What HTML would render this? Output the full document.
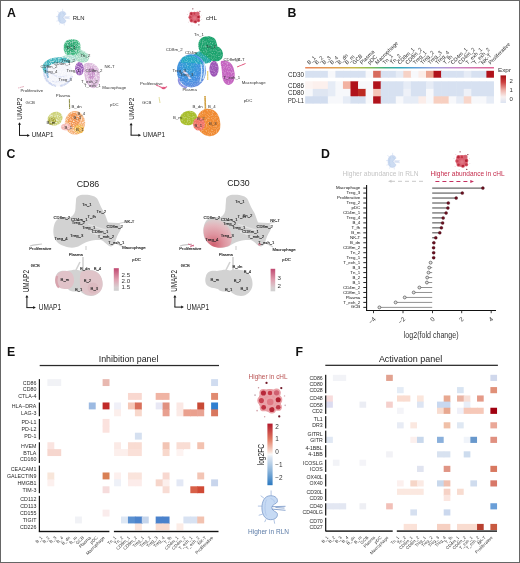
<!DOCTYPE html><html><head><meta charset="utf-8"><style>html,body{margin:0;padding:0;background:#fff;overflow:hidden}svg{display:block;will-change:transform}text{font-family:"Liberation Sans",sans-serif}</style></head><body>
<svg width="520" height="563" viewBox="0 0 520 563">
<defs>
<filter id="b1" x="-50%" y="-50%" width="200%" height="200%"><feGaussianBlur stdDeviation="0.7"/></filter>
<filter id="b2" x="-50%" y="-50%" width="200%" height="200%"><feGaussianBlur stdDeviation="1.2"/></filter>
<filter id="b05" x="-50%" y="-50%" width="200%" height="200%"><feGaussianBlur stdDeviation="0.4"/></filter>
<linearGradient id="annbar" x1="0" x2="1" y1="0" y2="0">
<stop offset="0" stop-color="#e8865a"/><stop offset="0.16" stop-color="#e0a050"/><stop offset="0.26" stop-color="#c8b848"/>
<stop offset="0.34" stop-color="#8cbc50"/><stop offset="0.42" stop-color="#40b080"/><stop offset="0.5" stop-color="#30a8b8"/>
<stop offset="0.58" stop-color="#5aa0d8"/><stop offset="0.7" stop-color="#a0a0dc"/><stop offset="0.8" stop-color="#c888c8"/><stop offset="1" stop-color="#e06090"/>
</linearGradient>
<linearGradient id="exprleg" x1="0" x2="0" y1="0" y2="1">
<stop offset="0" stop-color="#a50f15"/><stop offset="0.25" stop-color="#cc4040"/><stop offset="0.55" stop-color="#f0b8b0"/><stop offset="0.78" stop-color="#f8f0f0"/><stop offset="1" stop-color="#dce4f2"/>
</linearGradient>
<linearGradient id="cleg" x1="0" x2="0" y1="0" y2="1">
<stop offset="0" stop-color="#c04870"/><stop offset="0.5" stop-color="#e0a0b0"/><stop offset="0.85" stop-color="#d8d0d2"/><stop offset="1" stop-color="#d0d0d0"/>
</linearGradient>
<linearGradient id="fcleg" x1="0" x2="0" y1="0" y2="1">
<stop offset="0" stop-color="#b2182b"/><stop offset="0.25" stop-color="#e07860"/><stop offset="0.45" stop-color="#f8dcd0"/><stop offset="0.5" stop-color="#f8f8f8"/><stop offset="0.55" stop-color="#dce6f2"/><stop offset="0.75" stop-color="#92b8dc"/><stop offset="1" stop-color="#2a78c0"/>
</linearGradient>
<radialGradient id="gGreen" cx="0.45" cy="0.4" r="0.6"><stop offset="0" stop-color="#1f9a66"/><stop offset="0.7" stop-color="#3cb67f"/><stop offset="1" stop-color="#7fd0a8"/></radialGradient>
<radialGradient id="gBlue" cx="0.4" cy="0.35" r="0.7"><stop offset="0" stop-color="#2a9fd0"/><stop offset="0.6" stop-color="#3f8fe0"/><stop offset="1" stop-color="#6a8ee0"/></radialGradient>
<radialGradient id="gOrange" cx="0.55" cy="0.55" r="0.6"><stop offset="0" stop-color="#f07a30"/><stop offset="1" stop-color="#f59a50"/></radialGradient>
<radialGradient id="gRedLobe" cx="0.35" cy="0.9" r="0.85"><stop offset="0" stop-color="#d0606f"/><stop offset="0.45" stop-color="#de95a0"/><stop offset="0.8" stop-color="#e4b4bb"/><stop offset="1" stop-color="#dcc8ca"/></radialGradient>
<filter id="speck" x="-10%" y="-10%" width="120%" height="120%">
<feTurbulence type="fractalNoise" baseFrequency="0.8" numOctaves="2" seed="7" result="n"/>
<feColorMatrix in="n" type="matrix" values="0 0 0 0 0  0 0 0 0 0  0 0 0 0 0  0 0 0 -1.8 1.75" result="a"/>
<feComposite in="SourceGraphic" in2="a" operator="in" result="c"/>
<feGaussianBlur in="c" stdDeviation="0.4"/>
</filter>
<filter id="speck2" x="-10%" y="-10%" width="120%" height="120%">
<feTurbulence type="fractalNoise" baseFrequency="0.8" numOctaves="2" seed="3" result="n"/>
<feColorMatrix in="n" type="matrix" values="0 0 0 0 0  0 0 0 0 0  0 0 0 0 0  0 0 0 -1.0 1.45" result="a"/>
<feComposite in="SourceGraphic" in2="a" operator="in" result="c"/>
<feGaussianBlur in="c" stdDeviation="0.4"/>
</filter>
</defs>

<rect x="0" y="0" width="520" height="563" fill="#fff"/>
<g filter="url(#speck)">
<path d="M68 50 C74 47 83 49 88 54 C91 58 88 63 83 62.5 C78 62 72 59 68 56 Z" fill="#a6dcc4"/>
<path d="M74 51 C79 51 84 54 86 57" stroke="#6cc49a" stroke-width="2" fill="none"/>
<path d="M65 42 C67 39 73 38.5 77 40 C80 41.5 81 45 80.5 49 C80 53 78 56.5 74 57 C69 57.5 65 55 64 51 C63.3 47.5 63.5 44.5 65 42 Z" fill="url(#gGreen)"/>
<path d="M43 66 C45 61 55 60 63 61.5 C70 63 73 68 72.5 75 C72 82 66 86.5 58 86.5 C50 86.5 44 82 43 75 Z" fill="#f4f5fb"/>
<path d="M44 70 C44 78 48 84 56 86 M60 86 C66 85 70 82 72 76" stroke="#cdd6f0" stroke-width="2" fill="none"/>
<path d="M50 72 C54 76 60 78 67 76 M52 81 C57 83 62 82 68 79" stroke="#dde2f4" stroke-width="1.2" fill="none"/>
<path d="M60 58 C64 55 70 54 74 55.5 C77 57 77 60 75 62 C71 63 65 62.5 61 61.5 Z" fill="#b0e0d4"/>
<path d="M42.5 67 C43 61 51 57 60 57.3 C67 57.6 71 60 70 63 C64 62.5 56 62.5 51 64.5 C48 66 47 70 46.5 74 C44 73 42.5 70 42.5 67 Z" fill="#3fb3bd"/>
<path d="M47 66 C47 70 47 74 48 78" stroke="#7fb0d8" stroke-width="2" fill="none"/>
<ellipse cx="79.5" cy="68.8" rx="4.5" ry="6.8" fill="#9a5cb8"/>
<path d="M84 64 C90 61 97 64 99 70 C101 77 100 85 95 88 C90 89 86 84 85 78 C84 73 83 68 84 64 Z" fill="#dcbadc"/>
<ellipse cx="91.5" cy="73" rx="3.6" ry="6.5" fill="#c690c8"/>
<path d="M18 88 L24 86.5" stroke="#e0a0b0" stroke-width="0.8"/>
<path d="M69.4 99 L69.6 109" stroke="#8a8a40" stroke-width="1.1"/>
<ellipse cx="55" cy="118.7" rx="8" ry="6.6" transform="rotate(-30 55 118.7)" fill="#cdd27a"/>
<ellipse cx="52" cy="121" rx="4" ry="3.5" transform="rotate(-30 52 121)" fill="#a8a838"/>
<ellipse cx="75" cy="122.8" rx="10.2" ry="11.8" fill="#f6b27a"/>
<ellipse cx="74" cy="120" rx="6" ry="7" fill="#f29450"/>
<ellipse cx="79" cy="129" rx="5" ry="4.5" fill="#f2b448"/>
<ellipse cx="66" cy="127" rx="5.2" ry="3.6" fill="#f4b4b0"/>
</g>
<text x="66.00" y="49.00" font-size="4.3" fill="#333" text-anchor="start">Tn_1</text>
<text x="80.50" y="56.50" font-size="4.3" fill="#333" text-anchor="start">Tn_2</text>
<text x="61.50" y="61.50" font-size="4.3" fill="#333" text-anchor="start">Treg_2</text>
<text x="40.50" y="67.50" font-size="4.3" fill="#333" text-anchor="start">CD8m_2</text>
<text x="53.50" y="64.50" font-size="4.3" fill="#333" text-anchor="start">CD4m_1</text>
<text x="44.00" y="73.00" font-size="4.3" fill="#333" text-anchor="start">Treg_4</text>
<text x="66.50" y="71.50" font-size="4.3" fill="#333" text-anchor="start">Treg_1</text>
<text x="85.50" y="71.50" font-size="4.3" fill="#333" text-anchor="start">CD8m_2</text>
<text x="58.50" y="81.00" font-size="4.3" fill="#333" text-anchor="start">Treg_3</text>
<text x="104.50" y="67.50" font-size="4.3" fill="#333" text-anchor="start">NK-T</text>
<text x="81.00" y="83.00" font-size="4.3" fill="#333" text-anchor="start">T_exh_2</text>
<text x="84.00" y="86.50" font-size="4.3" fill="#333" text-anchor="start">T_exh_1</text>
<text x="102.30" y="89.30" font-size="4.3" fill="#333" text-anchor="start">Macrophage</text>
<text x="20.40" y="91.50" font-size="4.3" fill="#333" text-anchor="start">Proliferative</text>
<text x="55.80" y="97.00" font-size="4.3" fill="#333" text-anchor="start">Plasma</text>
<text x="25.60" y="104.30" font-size="4.3" fill="#333" text-anchor="start">GCB</text>
<text x="110.00" y="106.30" font-size="4.3" fill="#333" text-anchor="start">pDC</text>
<text x="71.50" y="108.00" font-size="4.3" fill="#333" text-anchor="start">B_dn</text>
<text x="77.50" y="115.00" font-size="4.3" fill="#333" text-anchor="start">B_4</text>
<text x="73.50" y="119.00" font-size="4.3" fill="#333" text-anchor="start">B_3</text>
<text x="46.50" y="123.50" font-size="4.3" fill="#333" text-anchor="start">B_m</text>
<text x="64.50" y="129.00" font-size="4.3" fill="#333" text-anchor="start">B_1</text>
<text x="76.00" y="131.00" font-size="4.3" fill="#333" text-anchor="start">B_1</text>
<g filter="url(#speck2)">
<path d="M193 56 C196 51 202 50 208 52 C212 54 213 58 211 62 C207 64 200 64 195 62 Z" fill="#22a8a4"/>
<path d="M200.5 39 C203 35.8 210 35.5 214 38 C216.5 40 216.8 43.5 217.5 46.5 C220.5 47.5 223 50.5 223 54.5 C223 58.5 220 61.5 215.5 61.5 C211.5 61.5 209 58.5 206 56 C201.5 54 198.3 50.5 198.3 45.5 C198.3 42.5 199 40.5 200.5 39 Z" fill="#1fa36e"/>
<ellipse cx="191.4" cy="70.8" rx="14.6" ry="16.6" fill="url(#gBlue)"/>
<path d="M182 58 C186 55 192 55 196 57 C200 59 202 62 203 65 C196 63 188 62 181 63 Z" fill="#20aac0" opacity="0.9"/>
<path d="M201 64 C202 70 202 76 200 82 M204 62 C205 68 205 74 203 79" stroke="#c8e4f8" stroke-width="1.3" fill="none"/>
<path d="M183 71 C186 73 189 76 190 79" stroke="#d8d8f4" stroke-width="2.2" fill="none"/>
<path d="M179 78 C178 83 181 87 187 87.5" stroke="#8a90e0" stroke-width="2" fill="none"/>
<ellipse cx="214" cy="68.8" rx="4.6" ry="8" fill="#9c54b6"/>
<path d="M221 61 C227 59 233 63 234 70 C236 77 234 84 229 85 C224 85 222 79 222 73 C222 68 220 64 221 61 Z" fill="#c464c0"/>
<path d="M237 67 L245.5 63.5" stroke="#e0507a" stroke-width="1"/>
<path d="M156 85 C159 86 161 87.5 164 88.5 L167 86.5" stroke="#e86a90" stroke-width="1.3" fill="none"/>
<ellipse cx="163.5" cy="88" rx="2" ry="1.3" fill="#e0507a"/>
<path d="M207.7 71 L207.7 80" stroke="#e8d070" stroke-width="1.2"/>
<path d="M159 97 L160 103" stroke="#d8d080" stroke-width="0.8"/>
<ellipse cx="188.5" cy="118" rx="8.8" ry="7.2" transform="rotate(-15 188.5 118)" fill="#a8be2c"/>
<path d="M205 96 L205.5 111" stroke="#d0a040" stroke-width="1.6"/>
<path d="M203 110 C206 108 212 108 216 112 C220 116 221 124 220 129 C218 134 213 137 208 136 C202 135 198 130 197 124 C196 117 199 112 203 110 Z" fill="#f08a30"/>
<ellipse cx="199" cy="124" rx="6" ry="6.6" fill="#f27468"/>
</g>
<text x="194.00" y="36.00" font-size="4.3" fill="#333" text-anchor="start">Tn_1</text>
<text x="165.80" y="50.50" font-size="4.3" fill="#333" text-anchor="start">CD8m_2</text>
<text x="185.00" y="53.50" font-size="4.3" fill="#333" text-anchor="start">CD4m</text>
<text x="206.00" y="48.00" font-size="4.3" fill="#333" text-anchor="start">Tn_2</text>
<text x="223.50" y="61.00" font-size="4.3" fill="#333" text-anchor="start">CD8m_2</text>
<text x="234.50" y="61.00" font-size="4.3" fill="#333" text-anchor="start">NK-T</text>
<text x="172.50" y="71.50" font-size="4.3" fill="#333" text-anchor="start">Treg_4</text>
<text x="180.00" y="75.50" font-size="4.3" fill="#333" text-anchor="start">Treg_3</text>
<text x="223.50" y="78.50" font-size="4.3" fill="#333" text-anchor="start">T_exh_1</text>
<text x="241.70" y="84.00" font-size="4.3" fill="#333" text-anchor="start">Macrophage</text>
<text x="182.50" y="91.00" font-size="4.3" fill="#333" text-anchor="start">Plasma</text>
<text x="140.00" y="85.00" font-size="4.3" fill="#333" text-anchor="start">Proliferative</text>
<text x="142.00" y="103.50" font-size="4.3" fill="#333" text-anchor="start">GCB</text>
<text x="243.70" y="102.00" font-size="4.3" fill="#333" text-anchor="start">pDC</text>
<text x="192.50" y="107.50" font-size="4.3" fill="#333" text-anchor="start">B_dn</text>
<text x="208.00" y="107.50" font-size="4.3" fill="#333" text-anchor="start">B_4</text>
<text x="173.00" y="119.30" font-size="4.3" fill="#333" text-anchor="start">B_m</text>
<text x="197.00" y="120.00" font-size="4.3" fill="#333" text-anchor="start">B_2</text>
<text x="194.50" y="126.50" font-size="4.3" fill="#333" text-anchor="start">B_1</text>
<text x="209.00" y="124.50" font-size="4.3" fill="#333" text-anchor="start">B_3</text>
<path d="M19.5 135.4 L19.5 123.7 M19.0 135.4 L28.3 135.4" stroke="#1a1a1a" stroke-width="1" fill="none"/>
<path d="M18.0 124.8 L19.5 122.2 L21.0 124.8 Z" fill="#1a1a1a"/>
<path d="M27.2 133.9 L29.8 135.4 L27.2 136.9 Z" fill="#1a1a1a"/>
<text x="31.70" y="137.00" font-size="7.9" fill="#222" text-anchor="start" textLength="21.7" lengthAdjust="spacingAndGlyphs">UMAP1</text>
<text x="21.90" y="108.75" font-size="7.9" fill="#222" text-anchor="middle" transform="rotate(-90 21.90 108.75)" textLength="21.9" lengthAdjust="spacingAndGlyphs">UMAP2</text>
<path d="M131.1 135.2 L131.1 124.2 M130.6 135.2 L139.5 135.2" stroke="#1a1a1a" stroke-width="1" fill="none"/>
<path d="M129.6 125.3 L131.1 122.7 L132.6 125.3 Z" fill="#1a1a1a"/>
<path d="M138.4 133.7 L141 135.2 L138.4 136.7 Z" fill="#1a1a1a"/>
<text x="143.00" y="137.00" font-size="7.9" fill="#222" text-anchor="start" textLength="22.2" lengthAdjust="spacingAndGlyphs">UMAP1</text>
<text x="134.00" y="108.75" font-size="7.9" fill="#222" text-anchor="middle" transform="rotate(-90 134.00 108.75)" textLength="21.9" lengthAdjust="spacingAndGlyphs">UMAP2</text>
<g transform="translate(61.8 17.4) scale(1.0)">
<path d="M0.8 -6 L0.8 -8.6 M-2.8 -4.8 L-4.4 -6 M-3.8 -0.8 L-5.8 -0.8 M-3.4 3.2 L-5.4 3.8 M-1.8 5.8 L-2.4 7.2 M2.2 5.9 L2.6 8" stroke="#c0d0ec" stroke-width="0.45"/>
<path d="M0.5 -6 C-2.5 -6 -3.8 -3 -3.8 0 C-3.8 3 -2.5 6 0.5 6 C3 6 4.3 4.6 3.9 2.9 C3.6 1.9 1.3 1.8 1.1 0 C1.3 -1.8 3.6 -1.9 3.9 -2.9 C4.3 -4.6 3 -6 0.5 -6 Z" fill="#cddcf2" stroke="#a8bde4" stroke-width="0.35"/>
<path d="M-1.5 -4 C-2.5 -2 -2.5 2 -1.5 4 M0.5 -4.6 C2 -4.2 2.6 -3.4 2.4 -2.6" stroke="#a9c2e6" stroke-width="0.35" fill="none"/>
<path d="M1.2 -0.5 L8 -0.7 M1.2 0.7 L8 1.3 M3 -0.1 L7.5 0.2" stroke="#a8bde4" stroke-width="0.4"/>
</g>
<text x="72.70" y="20.40" font-size="6.2" fill="#222" text-anchor="start" textLength="11.9" lengthAdjust="spacingAndGlyphs">RLN</text>
<g transform="translate(194.4 17) scale(0.98)">
<circle cx="0" cy="0.2" r="5.6" fill="#d45868"/>
<circle cx="-3.1" cy="-3.4" r="2.0" fill="#dc6878"/>
<circle cx="-3.1" cy="-3.4" r="1.24" fill="#b8283a"/>
<circle cx="0.1" cy="-3.4" r="1.8" fill="#dc6878"/>
<circle cx="0.1" cy="-3.4" r="1.12" fill="#c83848"/>
<circle cx="3.3" cy="-3.5" r="2.1" fill="#dc6878"/>
<circle cx="3.3" cy="-3.5" r="1.30" fill="#d06070"/>
<circle cx="-4.1" cy="0.3" r="2.0" fill="#dc6878"/>
<circle cx="-4.1" cy="0.3" r="1.24" fill="#c84050"/>
<circle cx="4.1" cy="-0.1" r="2.0" fill="#dc6878"/>
<circle cx="4.1" cy="-0.1" r="1.24" fill="#b02030"/>
<circle cx="-3.0" cy="3.6" r="1.9" fill="#dc6878"/>
<circle cx="-3.0" cy="3.6" r="1.18" fill="#c03040"/>
<circle cx="1.0" cy="4.6" r="2.0" fill="#dc6878"/>
<circle cx="1.0" cy="4.6" r="1.24" fill="#b52535"/>
<circle cx="4.1" cy="3.5" r="1.8" fill="#dc6878"/>
<circle cx="4.1" cy="3.5" r="1.12" fill="#c03848"/>
<circle cx="0.2" cy="1.0" r="2.6" fill="#dc6878"/>
<circle cx="0.2" cy="1.0" r="1.61" fill="#e07884"/>
<circle cx="-1.6" cy="-8.3" r="0.55" fill="#701828"/>
<circle cx="5.6" cy="-5.8" r="0.55" fill="#701828"/>
<circle cx="4.6" cy="8.0" r="0.55" fill="#701828"/>
<circle cx="-7.2" cy="-2.4" r="0.45" fill="#c8b0b8"/>
<circle cx="7.5" cy="2.6" r="0.4" fill="#c8b0b8"/>
<circle cx="-6.2" cy="5.2" r="0.4" fill="#d0a0a8"/>
<circle cx="-5.5" cy="-6" r="0.35" fill="#c89098"/>
<circle cx="7.2" cy="-2" r="0.35" fill="#d0a8b0"/>
<circle cx="-2.5" cy="8.2" r="0.35" fill="#d0a0a8"/>
</g>
<text x="206.00" y="20.30" font-size="6.2" fill="#222" text-anchor="start" textLength="11" lengthAdjust="spacingAndGlyphs">cHL</text>
<rect x="305.20" y="70.80" width="8.15" height="6.90" fill="#d7e1f1"/>
<rect x="312.75" y="70.80" width="8.15" height="6.90" fill="#d7e1f1"/>
<rect x="320.30" y="70.80" width="8.15" height="6.90" fill="#d7e1f1"/>
<rect x="327.85" y="70.80" width="8.15" height="6.90" fill="#f7f8fb"/>
<rect x="335.40" y="70.80" width="8.15" height="6.90" fill="#d7e1f1"/>
<rect x="342.95" y="70.80" width="8.15" height="6.90" fill="#d7e1f1"/>
<rect x="350.50" y="70.80" width="8.15" height="6.90" fill="#d7e1f1"/>
<rect x="358.05" y="70.80" width="8.15" height="6.90" fill="#d7e1f1"/>
<rect x="365.60" y="70.80" width="8.15" height="6.90" fill="#f7f8fb"/>
<rect x="373.15" y="70.80" width="8.15" height="6.90" fill="#d76a5c"/>
<rect x="380.70" y="70.80" width="8.15" height="6.90" fill="#d7e1f1"/>
<rect x="388.25" y="70.80" width="8.15" height="6.90" fill="#d7e1f1"/>
<rect x="395.80" y="70.80" width="8.15" height="6.90" fill="#e6ecf6"/>
<rect x="403.35" y="70.80" width="8.15" height="6.90" fill="#f6d2c6"/>
<rect x="410.90" y="70.80" width="8.15" height="6.90" fill="#f7f8fb"/>
<rect x="418.45" y="70.80" width="8.15" height="6.90" fill="#fbede9"/>
<rect x="426.00" y="70.80" width="8.15" height="6.90" fill="#eca592"/>
<rect x="433.55" y="70.80" width="8.15" height="6.90" fill="#b0121b"/>
<rect x="441.10" y="70.80" width="8.15" height="6.90" fill="#d7e1f1"/>
<rect x="448.65" y="70.80" width="8.15" height="6.90" fill="#d7e1f1"/>
<rect x="456.20" y="70.80" width="8.15" height="6.90" fill="#d7e1f1"/>
<rect x="463.75" y="70.80" width="8.15" height="6.90" fill="#e6ecf6"/>
<rect x="471.30" y="70.80" width="8.15" height="6.90" fill="#d7e1f1"/>
<rect x="478.85" y="70.80" width="8.15" height="6.90" fill="#d7e1f1"/>
<rect x="486.40" y="70.80" width="7.55" height="6.90" fill="#b0121b"/>
<text x="304.00" y="76.60" font-size="6.6" fill="#2a2a2a" text-anchor="end" textLength="16" lengthAdjust="spacingAndGlyphs">CD30</text>
<rect x="305.20" y="81.30" width="8.15" height="8.20" fill="#fcf4f2"/>
<rect x="312.75" y="81.30" width="8.15" height="8.20" fill="#fcf0ed"/>
<rect x="320.30" y="81.30" width="8.15" height="8.20" fill="#fcf0ed"/>
<rect x="327.85" y="81.30" width="8.15" height="8.20" fill="#e6ecf6"/>
<rect x="335.40" y="81.30" width="8.15" height="8.20" fill="#f7f8fb"/>
<rect x="342.95" y="81.30" width="8.15" height="8.20" fill="#f2b2a2"/>
<rect x="350.50" y="81.30" width="8.15" height="8.20" fill="#b0121b"/>
<rect x="358.05" y="81.30" width="8.15" height="8.20" fill="#f7f8fb"/>
<rect x="365.60" y="81.30" width="8.15" height="8.20" fill="#f7f8fb"/>
<rect x="373.15" y="81.30" width="8.15" height="8.20" fill="#b0121b"/>
<rect x="380.70" y="81.30" width="8.15" height="8.20" fill="#d7e1f1"/>
<rect x="388.25" y="81.30" width="8.15" height="8.20" fill="#d7e1f1"/>
<rect x="395.80" y="81.30" width="8.15" height="8.20" fill="#d7e1f1"/>
<rect x="403.35" y="81.30" width="8.15" height="8.20" fill="#e6ecf6"/>
<rect x="410.90" y="81.30" width="8.15" height="8.20" fill="#d7e1f1"/>
<rect x="418.45" y="81.30" width="8.15" height="8.20" fill="#d7e1f1"/>
<rect x="426.00" y="81.30" width="8.15" height="8.20" fill="#e6ecf6"/>
<rect x="433.55" y="81.30" width="8.15" height="8.20" fill="#d7e1f1"/>
<rect x="441.10" y="81.30" width="8.15" height="8.20" fill="#d7e1f1"/>
<rect x="448.65" y="81.30" width="8.15" height="8.20" fill="#d7e1f1"/>
<rect x="456.20" y="81.30" width="8.15" height="8.20" fill="#d7e1f1"/>
<rect x="463.75" y="81.30" width="8.15" height="8.20" fill="#d7e1f1"/>
<rect x="471.30" y="81.30" width="8.15" height="8.20" fill="#d7e1f1"/>
<rect x="478.85" y="81.30" width="8.15" height="8.20" fill="#d7e1f1"/>
<rect x="486.40" y="81.30" width="7.55" height="8.20" fill="#d7e1f1"/>
<text x="304.00" y="87.50" font-size="6.6" fill="#2a2a2a" text-anchor="end" textLength="16" lengthAdjust="spacingAndGlyphs">CD86</text>
<rect x="305.20" y="88.90" width="8.15" height="8.00" fill="#f7f8fb"/>
<rect x="312.75" y="88.90" width="8.15" height="8.00" fill="#dfe6f2"/>
<rect x="320.30" y="88.90" width="8.15" height="8.00" fill="#dfe6f2"/>
<rect x="327.85" y="88.90" width="8.15" height="8.00" fill="#e6ecf6"/>
<rect x="335.40" y="88.90" width="8.15" height="8.00" fill="#f7f8fb"/>
<rect x="342.95" y="88.90" width="8.15" height="8.00" fill="#f7f8fb"/>
<rect x="350.50" y="88.90" width="8.15" height="8.00" fill="#b0121b"/>
<rect x="358.05" y="88.90" width="8.15" height="8.00" fill="#bd2a22"/>
<rect x="365.60" y="88.90" width="8.15" height="8.00" fill="#f7f8fb"/>
<rect x="373.15" y="88.90" width="8.15" height="8.00" fill="#f4c4b8"/>
<rect x="380.70" y="88.90" width="8.15" height="8.00" fill="#d7e1f1"/>
<rect x="388.25" y="88.90" width="8.15" height="8.00" fill="#d7e1f1"/>
<rect x="395.80" y="88.90" width="8.15" height="8.00" fill="#d7e1f1"/>
<rect x="403.35" y="88.90" width="8.15" height="8.00" fill="#eef1f8"/>
<rect x="410.90" y="88.90" width="8.15" height="8.00" fill="#d7e1f1"/>
<rect x="418.45" y="88.90" width="8.15" height="8.00" fill="#d7e1f1"/>
<rect x="426.00" y="88.90" width="8.15" height="8.00" fill="#f7f8fb"/>
<rect x="433.55" y="88.90" width="8.15" height="8.00" fill="#d7e1f1"/>
<rect x="441.10" y="88.90" width="8.15" height="8.00" fill="#d7e1f1"/>
<rect x="448.65" y="88.90" width="8.15" height="8.00" fill="#d7e1f1"/>
<rect x="456.20" y="88.90" width="8.15" height="8.00" fill="#d7e1f1"/>
<rect x="463.75" y="88.90" width="8.15" height="8.00" fill="#eef1f8"/>
<rect x="471.30" y="88.90" width="8.15" height="8.00" fill="#d7e1f1"/>
<rect x="478.85" y="88.90" width="8.15" height="8.00" fill="#d7e1f1"/>
<rect x="486.40" y="88.90" width="7.55" height="8.00" fill="#d7e1f1"/>
<text x="304.00" y="95.10" font-size="6.6" fill="#2a2a2a" text-anchor="end" textLength="16" lengthAdjust="spacingAndGlyphs">CD80</text>
<rect x="305.20" y="96.30" width="8.15" height="7.30" fill="#d2ddef"/>
<rect x="312.75" y="96.30" width="8.15" height="7.30" fill="#d2ddef"/>
<rect x="320.30" y="96.30" width="8.15" height="7.30" fill="#d2ddef"/>
<rect x="327.85" y="96.30" width="8.15" height="7.30" fill="#f7f8fb"/>
<rect x="335.40" y="96.30" width="8.15" height="7.30" fill="#f7f8fb"/>
<rect x="342.95" y="96.30" width="8.15" height="7.30" fill="#e6ecf6"/>
<rect x="350.50" y="96.30" width="8.15" height="7.30" fill="#d6e0f0"/>
<rect x="358.05" y="96.30" width="8.15" height="7.30" fill="#d6e0f0"/>
<rect x="365.60" y="96.30" width="8.15" height="7.30" fill="#f7f8fb"/>
<rect x="373.15" y="96.30" width="8.15" height="7.30" fill="#b0121b"/>
<rect x="380.70" y="96.30" width="8.15" height="7.30" fill="#d7e1f1"/>
<rect x="388.25" y="96.30" width="8.15" height="7.30" fill="#d7e1f1"/>
<rect x="395.80" y="96.30" width="8.15" height="7.30" fill="#f7f8fb"/>
<rect x="403.35" y="96.30" width="8.15" height="7.30" fill="#e6ecf6"/>
<rect x="410.90" y="96.30" width="8.15" height="7.30" fill="#e6ecf6"/>
<rect x="418.45" y="96.30" width="8.15" height="7.30" fill="#fbede9"/>
<rect x="426.00" y="96.30" width="8.15" height="7.30" fill="#f7f8fb"/>
<rect x="433.55" y="96.30" width="8.15" height="7.30" fill="#f7cfc0"/>
<rect x="441.10" y="96.30" width="8.15" height="7.30" fill="#f7cfc0"/>
<rect x="448.65" y="96.30" width="8.15" height="7.30" fill="#f7f8fb"/>
<rect x="456.20" y="96.30" width="8.15" height="7.30" fill="#e6ecf6"/>
<rect x="463.75" y="96.30" width="8.15" height="7.30" fill="#f8d6ca"/>
<rect x="471.30" y="96.30" width="8.15" height="7.30" fill="#f7f8fb"/>
<rect x="478.85" y="96.30" width="8.15" height="7.30" fill="#f7f8fb"/>
<rect x="486.40" y="96.30" width="7.55" height="7.30" fill="#e6ecf6"/>
<text x="304.00" y="102.80" font-size="6.6" fill="#2a2a2a" text-anchor="end" textLength="16" lengthAdjust="spacingAndGlyphs">PD-L1</text>
<rect x="305.20" y="67.00" width="188.75" height="1.50" fill="url(#annbar)"/>
<text x="309.27" y="64.80" font-size="5.4" fill="#333" text-anchor="start" transform="rotate(-45 309.27 64.80)">B_1</text>
<text x="316.82" y="64.80" font-size="5.4" fill="#333" text-anchor="start" transform="rotate(-45 316.82 64.80)">B_2</text>
<text x="324.38" y="64.80" font-size="5.4" fill="#333" text-anchor="start" transform="rotate(-45 324.38 64.80)">B_3</text>
<text x="331.92" y="64.80" font-size="5.4" fill="#333" text-anchor="start" transform="rotate(-45 331.92 64.80)">B_4</text>
<text x="339.47" y="64.80" font-size="5.4" fill="#333" text-anchor="start" transform="rotate(-45 339.47 64.80)">B_dn</text>
<text x="347.02" y="64.80" font-size="5.4" fill="#333" text-anchor="start" transform="rotate(-45 347.02 64.80)">B_m</text>
<text x="354.57" y="64.80" font-size="5.4" fill="#333" text-anchor="start" transform="rotate(-45 354.57 64.80)">GCB</text>
<text x="362.12" y="64.80" font-size="5.4" fill="#333" text-anchor="start" transform="rotate(-45 362.12 64.80)">Plasma</text>
<text x="369.67" y="64.80" font-size="5.4" fill="#333" text-anchor="start" transform="rotate(-45 369.67 64.80)">pDC</text>
<text x="377.22" y="64.80" font-size="5.4" fill="#333" text-anchor="start" transform="rotate(-45 377.22 64.80)">Macrophage</text>
<text x="384.77" y="64.80" font-size="5.4" fill="#333" text-anchor="start" transform="rotate(-45 384.77 64.80)">Tn_1</text>
<text x="392.32" y="64.80" font-size="5.4" fill="#333" text-anchor="start" transform="rotate(-45 392.32 64.80)">Tn_2</text>
<text x="399.87" y="64.80" font-size="5.4" fill="#333" text-anchor="start" transform="rotate(-45 399.87 64.80)">CD8m_1</text>
<text x="407.42" y="64.80" font-size="5.4" fill="#333" text-anchor="start" transform="rotate(-45 407.42 64.80)">CD8m_2</text>
<text x="414.97" y="64.80" font-size="5.4" fill="#333" text-anchor="start" transform="rotate(-45 414.97 64.80)">Treg_1</text>
<text x="422.52" y="64.80" font-size="5.4" fill="#333" text-anchor="start" transform="rotate(-45 422.52 64.80)">Treg_2</text>
<text x="430.07" y="64.80" font-size="5.4" fill="#333" text-anchor="start" transform="rotate(-45 430.07 64.80)">Treg_3</text>
<text x="437.62" y="64.80" font-size="5.4" fill="#333" text-anchor="start" transform="rotate(-45 437.62 64.80)">Treg_4</text>
<text x="445.18" y="64.80" font-size="5.4" fill="#333" text-anchor="start" transform="rotate(-45 445.18 64.80)">T_fh</text>
<text x="452.72" y="64.80" font-size="5.4" fill="#333" text-anchor="start" transform="rotate(-45 452.72 64.80)">CD4m_1</text>
<text x="460.27" y="64.80" font-size="5.4" fill="#333" text-anchor="start" transform="rotate(-45 460.27 64.80)">CD4m_2</text>
<text x="467.82" y="64.80" font-size="5.4" fill="#333" text-anchor="start" transform="rotate(-45 467.82 64.80)">T_exh_1</text>
<text x="475.37" y="64.80" font-size="5.4" fill="#333" text-anchor="start" transform="rotate(-45 475.37 64.80)">T_exh_2</text>
<text x="482.93" y="64.80" font-size="5.4" fill="#333" text-anchor="start" transform="rotate(-45 482.93 64.80)">NK-T</text>
<text x="490.47" y="64.80" font-size="5.4" fill="#333" text-anchor="start" transform="rotate(-45 490.47 64.80)">Proliferative</text>
<text x="498.00" y="71.50" font-size="6.2" fill="#333" text-anchor="start" textLength="13" lengthAdjust="spacingAndGlyphs">Expr</text>
<rect x="500.50" y="75.40" width="5.50" height="27.60" fill="url(#exprleg)"/>
<text x="509.50" y="82.80" font-size="6" fill="#333" text-anchor="start">2</text>
<text x="509.50" y="91.70" font-size="6" fill="#333" text-anchor="start">1</text>
<text x="509.50" y="101.00" font-size="6" fill="#333" text-anchor="start">0</text>
<g transform="translate(0 0)">
<g filter="url(#b05)">
<path d="M76 200 C76 196 80 194.5 85 194.8 C91 195 96 196 98 200 C100 205 102 209 104.5 213 C106 217 107 220 108 222.5 L118 223 C121 224 122 228 120 231 C118 234 116 238 115 243 C114 246 111 247 109 246 C106 244 104 241 101 240 C97 240 94 240 92 240.5 C88 241 84 243 80 245.5 C76 248 70 248.5 64 246 C58 244 54 240 53.5 234 C53 228 54 222 58 219 C62 217 67 217 71 217 C74 215 75.5 212 75.5 208 C75.5 205 76 202 76 200 Z" fill="#d2d2d2"/>
<path d="M117 224 L125 222 M116 243 L123 247 M86 246 L86 250" stroke="#d2d2d2" stroke-width="1.2"/>
<path d="M30 246 C34 244 38 245 42 244" stroke="#c8c8c8" stroke-width="1.2" fill="none"/>
<path d="M83 257 L83 271 M80 262 L76 270" stroke="#d2d2d2" stroke-width="1.6"/>
<path d="M56 276 C57 271 62 270 67 271 C72 270 76 269 80 270.5 C84 269 90 269.5 95 271 C100 273 103 279 102.5 285 C102 291 97 296 91 296 C86 296 82 293 80 291 C76 292 70 292 68 289 C65 288 58 288 56 284 C55 281 55 279 56 276 Z" fill="#d2d2d2"/>
<path d="M88 224 C94 226 100 229 106 230 M90 232 C96 233 100 236 104 238" stroke="#e4e4e4" stroke-width="1.3" fill="none"/>
<g filter="url(#b1)">
<path d="M56 277 C57 272 62 270.5 67 271 C71 271 73.5 274 74 279 C74.5 284 72 288 68 289 C63 289.5 58 288 56.5 284.5 C55.5 282 55.5 279 56 277 Z" fill="#e0c2c8"/>
<path d="M57 276 C56 280 56.5 285 59 287.5" stroke="#d8a4ae" stroke-width="2.4" fill="none"/>
<path d="M81 272 C86 269.5 93 270 97 272.5 C101 275 103 280 102.5 286 C102 291 97.5 295.5 91 295.5 C86 295.5 82 292.5 80.5 288 C79.5 283 79.5 276 81 272 Z" fill="#e0c4c9"/>
<ellipse cx="93" cy="288" rx="5.5" ry="5.5" fill="#dcbac0"/>
</g>
</g>
<text x="82.00" y="205.70" font-size="4.2" fill="#222" text-anchor="start" stroke="#222" stroke-width="0.12">Tn_1</text>
<text x="96.50" y="212.70" font-size="4.2" fill="#222" text-anchor="start" stroke="#222" stroke-width="0.12">Tn_2</text>
<text x="53.60" y="218.70" font-size="4.2" fill="#222" text-anchor="start" stroke="#222" stroke-width="0.12">CD8m_2</text>
<text x="71.00" y="220.70" font-size="4.2" fill="#222" text-anchor="start" stroke="#222" stroke-width="0.12">CD4m_1</text>
<text x="87.50" y="218.20" font-size="4.2" fill="#222" text-anchor="start" stroke="#222" stroke-width="0.12">T_fh</text>
<text x="71.80" y="224.20" font-size="4.2" fill="#222" text-anchor="start" stroke="#222" stroke-width="0.12">Treg_2</text>
<text x="82.20" y="228.70" font-size="4.2" fill="#222" text-anchor="start" stroke="#222" stroke-width="0.12">Treg_1</text>
<text x="91.70" y="232.70" font-size="4.2" fill="#222" text-anchor="start" stroke="#222" stroke-width="0.12">CD8m_1</text>
<text x="106.40" y="228.20" font-size="4.2" fill="#222" text-anchor="start" stroke="#222" stroke-width="0.12">CD8m_2</text>
<text x="70.10" y="237.20" font-size="4.2" fill="#222" text-anchor="start" stroke="#222" stroke-width="0.12">Treg_3</text>
<text x="54.50" y="240.20" font-size="4.2" fill="#222" text-anchor="start" stroke="#222" stroke-width="0.12">Treg_4</text>
<text x="97.80" y="238.00" font-size="4.2" fill="#222" text-anchor="start" stroke="#222" stroke-width="0.12">T_exh_2</text>
<text x="108.10" y="244.20" font-size="4.2" fill="#222" text-anchor="start" stroke="#222" stroke-width="0.12">T_exh_1</text>
<text x="124.60" y="223.20" font-size="4.2" fill="#222" text-anchor="start" stroke="#222" stroke-width="0.12">NK-T</text>
<text x="122.30" y="248.50" font-size="4.2" fill="#222" text-anchor="start" stroke="#222" stroke-width="0.12">Macrophage</text>
<text x="29.20" y="250.20" font-size="4.2" fill="#222" text-anchor="start" stroke="#222" stroke-width="0.12">Proliferative</text>
<text x="68.80" y="255.50" font-size="4.2" fill="#222" text-anchor="start" stroke="#222" stroke-width="0.12">Plasma</text>
<text x="30.70" y="267.00" font-size="4.2" fill="#222" text-anchor="start" stroke="#222" stroke-width="0.12">GCB</text>
<text x="132.30" y="261.40" font-size="4.2" fill="#222" text-anchor="start" stroke="#222" stroke-width="0.12">pDC</text>
<text x="80.00" y="270.20" font-size="4.2" fill="#222" text-anchor="start" stroke="#222" stroke-width="0.12">B_dn</text>
<text x="93.70" y="270.20" font-size="4.2" fill="#222" text-anchor="start" stroke="#222" stroke-width="0.12">B_4</text>
<text x="60.60" y="281.20" font-size="4.2" fill="#222" text-anchor="start" stroke="#222" stroke-width="0.12">B_m</text>
<text x="83.70" y="282.20" font-size="4.2" fill="#222" text-anchor="start" stroke="#222" stroke-width="0.12">B_2</text>
<text x="75.00" y="291.20" font-size="4.2" fill="#222" text-anchor="start" stroke="#222" stroke-width="0.12">B_1</text>
<text x="90.60" y="290.20" font-size="4.2" fill="#222" text-anchor="start" stroke="#222" stroke-width="0.12">B_3</text>
</g>
<g transform="translate(150 0)">
<g filter="url(#b05)">
<path d="M76 200 C76 196 80 194.5 85 194.8 C91 195 96 196 98 200 C100 205 102 209 104.5 213 C106 217 107 220 108 222.5 L118 223 C121 224 122 228 120 231 C118 234 116 238 115 243 C114 246 111 247 109 246 C106 244 104 241 101 240 C97 240 94 240 92 240.5 C88 241 84 243 80 245.5 C76 248 70 248.5 64 246 C58 244 54 240 53.5 234 C53 228 54 222 58 219 C62 217 67 217 71 217 C74 215 75.5 212 75.5 208 C75.5 205 76 202 76 200 Z" fill="#d2d2d2"/>
<path d="M117 224 L125 222 M116 243 L123 247 M86 246 L86 250" stroke="#d2d2d2" stroke-width="1.2"/>
<path d="M30 246 C34 244 38 245 42 244" stroke="#c8c8c8" stroke-width="1.2" fill="none"/>
<path d="M83 257 L83 271 M80 262 L76 270" stroke="#d2d2d2" stroke-width="1.6"/>
<path d="M56 276 C57 271 62 270 67 271 C72 270 76 269 80 270.5 C84 269 90 269.5 95 271 C100 273 103 279 102.5 285 C102 291 97 296 91 296 C86 296 82 293 80 291 C76 292 70 292 68 289 C65 288 58 288 56 284 C55 281 55 279 56 276 Z" fill="#d2d2d2"/>
<path d="M88 224 C94 226 100 229 106 230 M90 232 C96 233 100 236 104 238" stroke="#e4e4e4" stroke-width="1.3" fill="none"/>
<path d="M53.5 230 C54 223 58 219.5 65 219.5 C71 220 76 223 79 228 C82 233 83 240 80 245 C75 248.5 67 248.5 62 246 C57 243 53.5 238 53.5 230 Z" fill="url(#gRedLobe)"/>
<path d="M38 244 L44 246 M40 247 L44 245" stroke="#d06080" stroke-width="0.9"/>
<circle cx="109.5" cy="244.3" r="1.4" fill="#d08898"/>
</g>
<text x="85.00" y="202.70" font-size="4.2" fill="#222" text-anchor="start" stroke="#222" stroke-width="0.12">Tn_1</text>
<text x="92.80" y="216.50" font-size="4.2" fill="#222" text-anchor="start" stroke="#222" stroke-width="0.12">Tn_2</text>
<text x="53.60" y="218.70" font-size="4.2" fill="#222" text-anchor="start" stroke="#222" stroke-width="0.12">CD8m_2</text>
<text x="71.00" y="220.70" font-size="4.2" fill="#222" text-anchor="start" stroke="#222" stroke-width="0.12">CD4m_1</text>
<text x="87.50" y="218.20" font-size="4.2" fill="#222" text-anchor="start" stroke="#222" stroke-width="0.12">T_fh</text>
<text x="73.00" y="224.50" font-size="4.2" fill="#222" text-anchor="start" stroke="#222" stroke-width="0.12">Treg_2</text>
<text x="82.20" y="228.70" font-size="4.2" fill="#222" text-anchor="start" stroke="#222" stroke-width="0.12">Treg_1</text>
<text x="92.30" y="232.70" font-size="4.2" fill="#222" text-anchor="start" stroke="#222" stroke-width="0.12">CD8m_1</text>
<text x="106.40" y="228.20" font-size="4.2" fill="#222" text-anchor="start" stroke="#222" stroke-width="0.12">CD8m_2</text>
<text x="70.70" y="236.50" font-size="4.2" fill="#222" text-anchor="start" stroke="#222" stroke-width="0.12">Treg_3</text>
<text x="55.30" y="240.50" font-size="4.2" fill="#222" text-anchor="start" stroke="#222" stroke-width="0.12">Treg_4</text>
<text x="97.80" y="238.00" font-size="4.2" fill="#222" text-anchor="start" stroke="#222" stroke-width="0.12">T_exh_2</text>
<text x="108.10" y="244.20" font-size="4.2" fill="#222" text-anchor="start" stroke="#222" stroke-width="0.12">T_exh_1</text>
<text x="120.20" y="222.20" font-size="4.2" fill="#222" text-anchor="start" stroke="#222" stroke-width="0.12">NK-T</text>
<text x="122.40" y="251.20" font-size="4.2" fill="#222" text-anchor="start" stroke="#222" stroke-width="0.12">Macrophage</text>
<text x="29.20" y="250.20" font-size="4.2" fill="#222" text-anchor="start" stroke="#222" stroke-width="0.12">Proliferative</text>
<text x="68.80" y="255.50" font-size="4.2" fill="#222" text-anchor="start" stroke="#222" stroke-width="0.12">Plasma</text>
<text x="30.70" y="267.00" font-size="4.2" fill="#222" text-anchor="start" stroke="#222" stroke-width="0.12">GCB</text>
<text x="132.30" y="261.40" font-size="4.2" fill="#222" text-anchor="start" stroke="#222" stroke-width="0.12">pDC</text>
<text x="82.50" y="267.50" font-size="4.2" fill="#222" text-anchor="start" stroke="#222" stroke-width="0.12">B_dn</text>
<text x="93.70" y="272.50" font-size="4.2" fill="#222" text-anchor="start" stroke="#222" stroke-width="0.12">B_4</text>
<text x="60.60" y="281.20" font-size="4.2" fill="#222" text-anchor="start" stroke="#222" stroke-width="0.12">B_m</text>
<text x="83.70" y="282.20" font-size="4.2" fill="#222" text-anchor="start" stroke="#222" stroke-width="0.12">B_2</text>
<text x="75.00" y="291.20" font-size="4.2" fill="#222" text-anchor="start" stroke="#222" stroke-width="0.12">B_1</text>
<text x="90.60" y="290.20" font-size="4.2" fill="#222" text-anchor="start" stroke="#222" stroke-width="0.12">B_3</text>
</g>
<text x="76.70" y="186.90" font-size="9.4" fill="#222" text-anchor="start" textLength="22.6" lengthAdjust="spacingAndGlyphs">CD86</text>
<text x="227.30" y="186.20" font-size="9.4" fill="#222" text-anchor="start" textLength="22.4" lengthAdjust="spacingAndGlyphs">CD30</text>
<path d="M26.9 307.6 L26.9 296.5 M26.4 307.6 L34.3 307.6" stroke="#1a1a1a" stroke-width="1" fill="none"/>
<path d="M25.4 297.6 L26.9 295 L28.4 297.6 Z" fill="#1a1a1a"/>
<path d="M33.199999999999996 306.1 L35.8 307.6 L33.199999999999996 309.1 Z" fill="#1a1a1a"/>
<text x="38.80" y="309.50" font-size="8.9" fill="#222" text-anchor="start" textLength="22.2" lengthAdjust="spacingAndGlyphs">UMAP1</text>
<text x="29.30" y="281.15" font-size="8.9" fill="#222" text-anchor="middle" transform="rotate(-90 29.30 281.15)" textLength="22.3" lengthAdjust="spacingAndGlyphs">UMAP2</text>
<path d="M174.9 307.1 L174.9 296.4 M174.4 307.1 L182.3 307.1" stroke="#1a1a1a" stroke-width="1" fill="none"/>
<path d="M173.4 297.5 L174.9 294.9 L176.4 297.5 Z" fill="#1a1a1a"/>
<path d="M181.20000000000002 305.6 L183.8 307.1 L181.20000000000002 308.6 Z" fill="#1a1a1a"/>
<text x="186.80" y="309.50" font-size="8.9" fill="#222" text-anchor="start" textLength="22.2" lengthAdjust="spacingAndGlyphs">UMAP1</text>
<text x="177.30" y="280.85" font-size="8.9" fill="#222" text-anchor="middle" transform="rotate(-90 177.30 280.85)" textLength="21.7" lengthAdjust="spacingAndGlyphs">UMAP2</text>
<rect x="113.80" y="268.20" width="5.00" height="22.60" fill="url(#cleg)"/>
<text x="121.50" y="276.60" font-size="6.2" fill="#333" text-anchor="start">2.5</text>
<text x="121.50" y="282.50" font-size="6.2" fill="#333" text-anchor="start">2.0</text>
<text x="121.50" y="288.60" font-size="6.2" fill="#333" text-anchor="start">1.5</text>
<rect x="270.60" y="268.80" width="4.60" height="22.50" fill="url(#cleg)"/>
<text x="277.60" y="279.60" font-size="6.2" fill="#333" text-anchor="start">3</text>
<text x="277.60" y="287.60" font-size="6.2" fill="#333" text-anchor="start">2</text>
<g transform="translate(391.8 161.4) scale(1.0)">
<path d="M0.8 -6 L0.8 -8.6 M-2.8 -4.8 L-4.4 -6 M-3.8 -0.8 L-5.8 -0.8 M-3.4 3.2 L-5.4 3.8 M-1.8 5.8 L-2.4 7.2 M2.2 5.9 L2.6 8" stroke="#c0d0ec" stroke-width="0.45"/>
<path d="M0.5 -6 C-2.5 -6 -3.8 -3 -3.8 0 C-3.8 3 -2.5 6 0.5 6 C3 6 4.3 4.6 3.9 2.9 C3.6 1.9 1.3 1.8 1.1 0 C1.3 -1.8 3.6 -1.9 3.9 -2.9 C4.3 -4.6 3 -6 0.5 -6 Z" fill="#cddcf2" stroke="#a8bde4" stroke-width="0.35"/>
<path d="M-1.5 -4 C-2.5 -2 -2.5 2 -1.5 4 M0.5 -4.6 C2 -4.2 2.6 -3.4 2.4 -2.6" stroke="#a9c2e6" stroke-width="0.35" fill="none"/>
<path d="M1.2 -0.5 L8 -0.7 M1.2 0.7 L8 1.3 M3 -0.1 L7.5 0.2" stroke="#a8bde4" stroke-width="0.4"/>
</g>
<g transform="translate(461.8 160.8) scale(1.08)">
<circle cx="0" cy="0.2" r="5.6" fill="#d45868"/>
<circle cx="-3.1" cy="-3.4" r="2.0" fill="#dc6878"/>
<circle cx="-3.1" cy="-3.4" r="1.24" fill="#b8283a"/>
<circle cx="0.1" cy="-3.4" r="1.8" fill="#dc6878"/>
<circle cx="0.1" cy="-3.4" r="1.12" fill="#c83848"/>
<circle cx="3.3" cy="-3.5" r="2.1" fill="#dc6878"/>
<circle cx="3.3" cy="-3.5" r="1.30" fill="#d06070"/>
<circle cx="-4.1" cy="0.3" r="2.0" fill="#dc6878"/>
<circle cx="-4.1" cy="0.3" r="1.24" fill="#c84050"/>
<circle cx="4.1" cy="-0.1" r="2.0" fill="#dc6878"/>
<circle cx="4.1" cy="-0.1" r="1.24" fill="#b02030"/>
<circle cx="-3.0" cy="3.6" r="1.9" fill="#dc6878"/>
<circle cx="-3.0" cy="3.6" r="1.18" fill="#c03040"/>
<circle cx="1.0" cy="4.6" r="2.0" fill="#dc6878"/>
<circle cx="1.0" cy="4.6" r="1.24" fill="#b52535"/>
<circle cx="4.1" cy="3.5" r="1.8" fill="#dc6878"/>
<circle cx="4.1" cy="3.5" r="1.12" fill="#c03848"/>
<circle cx="0.2" cy="1.0" r="2.6" fill="#dc6878"/>
<circle cx="0.2" cy="1.0" r="1.61" fill="#e07884"/>
<circle cx="-1.6" cy="-8.3" r="0.55" fill="#701828"/>
<circle cx="5.6" cy="-5.8" r="0.55" fill="#701828"/>
<circle cx="4.6" cy="8.0" r="0.55" fill="#701828"/>
<circle cx="-7.2" cy="-2.4" r="0.45" fill="#c8b0b8"/>
<circle cx="7.5" cy="2.6" r="0.4" fill="#c8b0b8"/>
<circle cx="-6.2" cy="5.2" r="0.4" fill="#d0a0a8"/>
<circle cx="-5.5" cy="-6" r="0.35" fill="#c89098"/>
<circle cx="7.2" cy="-2" r="0.35" fill="#d0a8b0"/>
<circle cx="-2.5" cy="8.2" r="0.35" fill="#d0a0a8"/>
</g>
<text x="342.50" y="175.80" font-size="7.6" fill="#c4c4c4" text-anchor="start" textLength="76" lengthAdjust="spacingAndGlyphs">Higher abundance in RLN</text>
<text x="430.60" y="175.80" font-size="7.6" fill="#c42a4a" text-anchor="start" textLength="74" lengthAdjust="spacingAndGlyphs">Higher abundance in cHL</text>
<path d="M391 181.3 L425 181.3" stroke="#c8c8c8" stroke-width="1" stroke-dasharray="4 3"/>
<path d="M388 181.3 L391.5 179.8 L391.5 182.8 Z" fill="#c8c8c8"/>
<path d="M435.4 181.5 L470.5 181.5" stroke="#c43060" stroke-width="1" stroke-dasharray="4 3"/>
<path d="M474 181.5 L470.3 180 L470.3 183 Z" fill="#c43060"/>
<line x1="363.30" y1="188.10" x2="366.80" y2="188.10" stroke="#111" stroke-width="0.9"/>
<text x="360.30" y="189.20" font-size="4.4" fill="#111" text-anchor="end">Macrophage</text>
<line x1="432.20" y1="188.10" x2="482.90" y2="188.10" stroke="#444" stroke-width="1.0"/>
<circle cx="482.9" cy="188.10" r="1.5" fill="#6a1020" stroke="#3a0810" stroke-width="0.3"/>
<line x1="363.30" y1="193.07" x2="366.80" y2="193.07" stroke="#111" stroke-width="0.9"/>
<text x="360.30" y="194.17" font-size="4.4" fill="#111" text-anchor="end">Treg_3</text>
<line x1="432.20" y1="193.07" x2="462.30" y2="193.07" stroke="#444" stroke-width="1.0"/>
<circle cx="462.3" cy="193.07" r="1.5" fill="#6a1020" stroke="#3a0810" stroke-width="0.3"/>
<line x1="363.30" y1="198.04" x2="366.80" y2="198.04" stroke="#111" stroke-width="0.9"/>
<text x="360.30" y="199.14" font-size="4.4" fill="#111" text-anchor="end">Proliferative</text>
<line x1="432.20" y1="198.04" x2="456.20" y2="198.04" stroke="#444" stroke-width="1.0"/>
<circle cx="456.2" cy="198.04" r="1.5" fill="#6a1020" stroke="#3a0810" stroke-width="0.3"/>
<line x1="363.30" y1="203.01" x2="366.80" y2="203.01" stroke="#111" stroke-width="0.9"/>
<text x="360.30" y="204.11" font-size="4.4" fill="#111" text-anchor="end">Treg_2</text>
<line x1="432.20" y1="203.01" x2="448.30" y2="203.01" stroke="#444" stroke-width="1.0"/>
<circle cx="448.3" cy="203.01" r="1.5" fill="#6a1020" stroke="#3a0810" stroke-width="0.3"/>
<line x1="363.30" y1="207.98" x2="366.80" y2="207.98" stroke="#111" stroke-width="0.9"/>
<text x="360.30" y="209.08" font-size="4.4" fill="#111" text-anchor="end">pDC</text>
<line x1="432.20" y1="207.98" x2="447.90" y2="207.98" stroke="#444" stroke-width="1.0"/>
<circle cx="447.9" cy="207.98" r="1.5" fill="#6a1020" stroke="#3a0810" stroke-width="0.3"/>
<line x1="363.30" y1="212.95" x2="366.80" y2="212.95" stroke="#111" stroke-width="0.9"/>
<text x="360.30" y="214.05" font-size="4.4" fill="#111" text-anchor="end">CD4m_1</text>
<line x1="432.20" y1="212.95" x2="446.10" y2="212.95" stroke="#444" stroke-width="1.0"/>
<circle cx="446.1" cy="212.95" r="1.5" fill="#6a1020" stroke="#3a0810" stroke-width="0.3"/>
<line x1="363.30" y1="217.92" x2="366.80" y2="217.92" stroke="#111" stroke-width="0.9"/>
<text x="360.30" y="219.02" font-size="4.4" fill="#111" text-anchor="end">Treg_4</text>
<line x1="432.20" y1="217.92" x2="443.20" y2="217.92" stroke="#444" stroke-width="1.0"/>
<circle cx="443.2" cy="217.92" r="1.5" fill="#6a1020" stroke="#3a0810" stroke-width="0.3"/>
<line x1="363.30" y1="222.89" x2="366.80" y2="222.89" stroke="#111" stroke-width="0.9"/>
<text x="360.30" y="223.99" font-size="4.4" fill="#111" text-anchor="end">B_4</text>
<line x1="432.20" y1="222.89" x2="442.60" y2="222.89" stroke="#444" stroke-width="1.0"/>
<circle cx="442.6" cy="222.89" r="1.5" fill="#6a1020" stroke="#3a0810" stroke-width="0.3"/>
<line x1="363.30" y1="227.86" x2="366.80" y2="227.86" stroke="#111" stroke-width="0.9"/>
<text x="360.30" y="228.96" font-size="4.4" fill="#111" text-anchor="end">T_fh</text>
<line x1="432.20" y1="227.86" x2="441.40" y2="227.86" stroke="#444" stroke-width="1.0"/>
<circle cx="441.4" cy="227.86" r="1.5" fill="#6a1020" stroke="#3a0810" stroke-width="0.3"/>
<line x1="363.30" y1="232.83" x2="366.80" y2="232.83" stroke="#111" stroke-width="0.9"/>
<text x="360.30" y="233.93" font-size="4.4" fill="#111" text-anchor="end">B_m</text>
<line x1="432.20" y1="232.83" x2="439.80" y2="232.83" stroke="#444" stroke-width="1.0"/>
<circle cx="439.8" cy="232.83" r="1.5" fill="#6a1020" stroke="#3a0810" stroke-width="0.3"/>
<line x1="363.30" y1="237.80" x2="366.80" y2="237.80" stroke="#111" stroke-width="0.9"/>
<text x="360.30" y="238.90" font-size="4.4" fill="#111" text-anchor="end">NK-T</text>
<line x1="432.20" y1="237.80" x2="435.80" y2="237.80" stroke="#444" stroke-width="1.0"/>
<circle cx="435.8" cy="237.80" r="1.5" fill="#6a1020" stroke="#3a0810" stroke-width="0.3"/>
<line x1="363.30" y1="242.77" x2="366.80" y2="242.77" stroke="#111" stroke-width="0.9"/>
<text x="360.30" y="243.87" font-size="4.4" fill="#111" text-anchor="end">B_dn</text>
<line x1="432.20" y1="242.77" x2="433.90" y2="242.77" stroke="#444" stroke-width="1.0"/>
<circle cx="433.9" cy="242.77" r="1.5" fill="#6a1020" stroke="#3a0810" stroke-width="0.3"/>
<line x1="363.30" y1="247.74" x2="366.80" y2="247.74" stroke="#111" stroke-width="0.9"/>
<text x="360.30" y="248.84" font-size="4.4" fill="#111" text-anchor="end">CD8m_2</text>
<line x1="432.20" y1="247.74" x2="433.60" y2="247.74" stroke="#444" stroke-width="1.0"/>
<circle cx="433.6" cy="247.74" r="1.5" fill="#6a1020" stroke="#3a0810" stroke-width="0.3"/>
<line x1="363.30" y1="252.71" x2="366.80" y2="252.71" stroke="#111" stroke-width="0.9"/>
<text x="360.30" y="253.81" font-size="4.4" fill="#111" text-anchor="end">Tn_2</text>
<line x1="432.20" y1="252.71" x2="433.70" y2="252.71" stroke="#444" stroke-width="1.0"/>
<circle cx="433.7" cy="252.71" r="1.5" fill="#6a1020" stroke="#3a0810" stroke-width="0.3"/>
<line x1="363.30" y1="257.68" x2="366.80" y2="257.68" stroke="#111" stroke-width="0.9"/>
<text x="360.30" y="258.78" font-size="4.4" fill="#111" text-anchor="end">Treg_1</text>
<line x1="432.20" y1="257.68" x2="433.70" y2="257.68" stroke="#444" stroke-width="1.0"/>
<circle cx="433.7" cy="257.68" r="1.5" fill="#6a1020" stroke="#3a0810" stroke-width="0.3"/>
<line x1="363.30" y1="262.65" x2="366.80" y2="262.65" stroke="#111" stroke-width="0.9"/>
<text x="360.30" y="263.75" font-size="4.4" fill="#111" text-anchor="end">T_exh_1</text>
<line x1="430.60" y1="262.65" x2="432.20" y2="262.65" stroke="#8c8c8c" stroke-width="0.95"/>
<circle cx="430.6" cy="262.65" r="1.45" fill="#e4e4e4" stroke="#505050" stroke-width="0.7"/>
<line x1="363.30" y1="267.62" x2="366.80" y2="267.62" stroke="#111" stroke-width="0.9"/>
<text x="360.30" y="268.72" font-size="4.4" fill="#111" text-anchor="end">B_3</text>
<line x1="429.20" y1="267.62" x2="432.20" y2="267.62" stroke="#8c8c8c" stroke-width="0.95"/>
<circle cx="429.2" cy="267.62" r="1.45" fill="#e4e4e4" stroke="#505050" stroke-width="0.7"/>
<line x1="363.30" y1="272.59" x2="366.80" y2="272.59" stroke="#111" stroke-width="0.9"/>
<text x="360.30" y="273.69" font-size="4.4" fill="#111" text-anchor="end">Tn_1</text>
<line x1="428.50" y1="272.59" x2="432.20" y2="272.59" stroke="#8c8c8c" stroke-width="0.95"/>
<circle cx="428.5" cy="272.59" r="1.45" fill="#e4e4e4" stroke="#505050" stroke-width="0.7"/>
<line x1="363.30" y1="277.56" x2="366.80" y2="277.56" stroke="#111" stroke-width="0.9"/>
<text x="360.30" y="278.66" font-size="4.4" fill="#111" text-anchor="end">B_2</text>
<line x1="427.20" y1="277.56" x2="432.20" y2="277.56" stroke="#8c8c8c" stroke-width="0.95"/>
<circle cx="427.2" cy="277.56" r="1.45" fill="#e4e4e4" stroke="#505050" stroke-width="0.7"/>
<line x1="363.30" y1="282.53" x2="366.80" y2="282.53" stroke="#111" stroke-width="0.9"/>
<text x="360.30" y="283.63" font-size="4.4" fill="#111" text-anchor="end">B_1</text>
<line x1="426.90" y1="282.53" x2="432.20" y2="282.53" stroke="#8c8c8c" stroke-width="0.95"/>
<circle cx="426.9" cy="282.53" r="1.45" fill="#e4e4e4" stroke="#505050" stroke-width="0.7"/>
<line x1="363.30" y1="287.50" x2="366.80" y2="287.50" stroke="#111" stroke-width="0.9"/>
<text x="360.30" y="288.60" font-size="4.4" fill="#111" text-anchor="end">CD4m_2</text>
<line x1="419.40" y1="287.50" x2="432.20" y2="287.50" stroke="#8c8c8c" stroke-width="0.95"/>
<circle cx="419.4" cy="287.50" r="1.45" fill="#e4e4e4" stroke="#505050" stroke-width="0.7"/>
<line x1="363.30" y1="292.47" x2="366.80" y2="292.47" stroke="#111" stroke-width="0.9"/>
<text x="360.30" y="293.57" font-size="4.4" fill="#111" text-anchor="end">CD8m_1</text>
<line x1="413.70" y1="292.47" x2="432.20" y2="292.47" stroke="#8c8c8c" stroke-width="0.95"/>
<circle cx="413.7" cy="292.47" r="1.45" fill="#e4e4e4" stroke="#505050" stroke-width="0.7"/>
<line x1="363.30" y1="297.44" x2="366.80" y2="297.44" stroke="#111" stroke-width="0.9"/>
<text x="360.30" y="298.54" font-size="4.4" fill="#111" text-anchor="end">Plasma</text>
<line x1="404.70" y1="297.44" x2="432.20" y2="297.44" stroke="#8c8c8c" stroke-width="0.95"/>
<circle cx="404.7" cy="297.44" r="1.45" fill="#e4e4e4" stroke="#505050" stroke-width="0.7"/>
<line x1="363.30" y1="302.41" x2="366.80" y2="302.41" stroke="#111" stroke-width="0.9"/>
<text x="360.30" y="303.51" font-size="4.4" fill="#111" text-anchor="end">T_exh_2</text>
<line x1="395.60" y1="302.41" x2="432.20" y2="302.41" stroke="#8c8c8c" stroke-width="0.95"/>
<circle cx="395.6" cy="302.41" r="1.45" fill="#e4e4e4" stroke="#505050" stroke-width="0.7"/>
<line x1="363.30" y1="307.38" x2="366.80" y2="307.38" stroke="#111" stroke-width="0.9"/>
<text x="360.30" y="308.48" font-size="4.4" fill="#111" text-anchor="end">GCB</text>
<line x1="379.40" y1="307.38" x2="432.20" y2="307.38" stroke="#8c8c8c" stroke-width="0.95"/>
<circle cx="379.4" cy="307.38" r="1.45" fill="#e4e4e4" stroke="#505050" stroke-width="0.7"/>
<line x1="366.60" y1="185.00" x2="366.60" y2="311.00" stroke="#111" stroke-width="1.1"/>
<line x1="366.10" y1="310.50" x2="496.00" y2="310.50" stroke="#111" stroke-width="1.1"/>
<line x1="373.50" y1="310.60" x2="373.50" y2="313.20" stroke="#222" stroke-width="0.9"/>
<text x="376.10" y="319.50" font-size="6.2" fill="#333" text-anchor="end" transform="rotate(-45 376.10 319.50)">−4</text>
<line x1="403.00" y1="310.60" x2="403.00" y2="313.20" stroke="#222" stroke-width="0.9"/>
<text x="405.60" y="319.50" font-size="6.2" fill="#333" text-anchor="end" transform="rotate(-45 405.60 319.50)">−2</text>
<line x1="432.50" y1="310.60" x2="432.50" y2="313.20" stroke="#222" stroke-width="0.9"/>
<text x="435.10" y="319.50" font-size="6.2" fill="#333" text-anchor="end" transform="rotate(-45 435.10 319.50)">0</text>
<line x1="461.70" y1="310.60" x2="461.70" y2="313.20" stroke="#222" stroke-width="0.9"/>
<text x="464.30" y="319.50" font-size="6.2" fill="#333" text-anchor="end" transform="rotate(-45 464.30 319.50)">2</text>
<line x1="491.20" y1="310.60" x2="491.20" y2="313.20" stroke="#222" stroke-width="0.9"/>
<text x="493.80" y="319.50" font-size="6.2" fill="#333" text-anchor="end" transform="rotate(-45 493.80 319.50)">4</text>
<text x="403.80" y="337.60" font-size="8.3" fill="#333" text-anchor="start" textLength="54.7" lengthAdjust="spacingAndGlyphs">log2(fold change)</text>
<rect x="47.40" y="379.15" width="7.50" height="6.90" fill="#f1f2f6"/>
<rect x="54.30" y="379.15" width="6.90" height="6.90" fill="#f1f2f6"/>
<rect x="102.60" y="379.15" width="6.90" height="6.90" fill="#e8b8b0"/>
<rect x="211.12" y="379.15" width="6.93" height="6.90" fill="#d0dcf0"/>
<text x="36.40" y="384.50" font-size="5.3" fill="#2a2a2a" text-anchor="end">CD86</text>
<text x="36.40" y="391.40" font-size="5.3" fill="#2a2a2a" text-anchor="end">CD80</text>
<rect x="127.96" y="392.95" width="7.53" height="6.90" fill="#f9d8d0"/>
<rect x="134.89" y="392.95" width="6.93" height="6.90" fill="#f9d8d0"/>
<rect x="155.68" y="392.95" width="7.53" height="6.90" fill="#f0b4a4"/>
<rect x="162.61" y="392.95" width="6.93" height="6.90" fill="#f0b4a4"/>
<rect x="211.12" y="392.95" width="6.93" height="6.90" fill="#e08a70"/>
<text x="36.40" y="398.30" font-size="5.3" fill="#2a2a2a" text-anchor="end">CTLA-4</text>
<rect x="88.80" y="402.48" width="6.90" height="6.90" fill="#9cbae2"/>
<rect x="102.60" y="402.48" width="6.90" height="6.90" fill="#c02a28"/>
<rect x="114.10" y="402.48" width="6.93" height="7.50" fill="#f0f0f8"/>
<rect x="127.96" y="402.48" width="7.53" height="6.90" fill="#f5c8b8"/>
<rect x="134.89" y="402.48" width="6.93" height="7.50" fill="#d9705a"/>
<rect x="155.68" y="402.48" width="7.53" height="6.90" fill="#e8e8f5"/>
<rect x="162.61" y="402.48" width="6.93" height="7.50" fill="#e09080"/>
<rect x="176.47" y="402.48" width="6.93" height="7.50" fill="#fbe8e4"/>
<rect x="197.26" y="402.48" width="6.93" height="7.50" fill="#c84a35"/>
<rect x="211.12" y="402.48" width="6.93" height="7.50" fill="#2f7fd0"/>
<text x="36.40" y="407.83" font-size="5.3" fill="#2a2a2a" text-anchor="end">HLA−DRA</text>
<rect x="114.10" y="409.38" width="6.93" height="6.90" fill="#fcefec"/>
<rect x="134.89" y="409.38" width="6.93" height="6.90" fill="#f8d8cc"/>
<rect x="162.61" y="409.38" width="6.93" height="6.90" fill="#e8a090"/>
<rect x="176.47" y="409.38" width="7.53" height="6.90" fill="#fbeae6"/>
<rect x="183.40" y="409.38" width="7.53" height="6.90" fill="#eaa08e"/>
<rect x="190.33" y="409.38" width="7.53" height="6.90" fill="#eaa08e"/>
<rect x="197.26" y="409.38" width="6.93" height="6.90" fill="#e9a393"/>
<rect x="211.12" y="409.38" width="6.93" height="6.90" fill="#d8775e"/>
<text x="36.40" y="414.73" font-size="5.3" fill="#2a2a2a" text-anchor="end">LAG-3</text>
<rect x="102.60" y="418.92" width="6.90" height="7.50" fill="#fbe2de"/>
<text x="36.40" y="424.27" font-size="5.3" fill="#2a2a2a" text-anchor="end">PD-L1</text>
<rect x="102.60" y="425.82" width="6.90" height="6.90" fill="#fbe2de"/>
<text x="36.40" y="431.17" font-size="5.3" fill="#2a2a2a" text-anchor="end">PD-L2</text>
<rect x="134.89" y="432.72" width="6.93" height="6.90" fill="#d5e0f0"/>
<text x="36.40" y="438.07" font-size="5.3" fill="#2a2a2a" text-anchor="end">PD-1</text>
<rect x="47.40" y="442.25" width="6.90" height="7.50" fill="#fae4e0"/>
<rect x="114.10" y="442.25" width="6.93" height="7.50" fill="#fbeae6"/>
<rect x="127.96" y="442.25" width="7.53" height="7.50" fill="#f9dcd2"/>
<rect x="134.89" y="442.25" width="6.93" height="7.50" fill="#f9dcd2"/>
<rect x="162.61" y="442.25" width="6.93" height="7.50" fill="#f2c4b4"/>
<rect x="176.47" y="442.25" width="7.53" height="7.50" fill="#f9ddd4"/>
<rect x="183.40" y="442.25" width="6.93" height="6.90" fill="#f9ddd4"/>
<rect x="197.26" y="442.25" width="6.93" height="6.90" fill="#f3c2b0"/>
<text x="36.40" y="447.60" font-size="5.3" fill="#2a2a2a" text-anchor="end">HVEM</text>
<rect x="47.40" y="449.15" width="7.50" height="6.90" fill="#f6d6ce"/>
<rect x="54.30" y="449.15" width="6.90" height="6.90" fill="#f6d6ce"/>
<rect x="114.10" y="449.15" width="7.53" height="6.90" fill="#fcefec"/>
<rect x="121.03" y="449.15" width="7.53" height="6.90" fill="#fcefec"/>
<rect x="127.96" y="449.15" width="7.53" height="6.90" fill="#fae0d8"/>
<rect x="134.89" y="449.15" width="6.93" height="6.90" fill="#fae0d8"/>
<rect x="162.61" y="449.15" width="6.93" height="6.90" fill="#f8d8cc"/>
<rect x="176.47" y="449.15" width="6.93" height="6.90" fill="#fdf3f1"/>
<text x="36.40" y="454.50" font-size="5.3" fill="#2a2a2a" text-anchor="end">BTLA</text>
<text x="36.40" y="461.40" font-size="5.3" fill="#2a2a2a" text-anchor="end">CD160</text>
<text x="36.40" y="470.94" font-size="5.3" fill="#2a2a2a" text-anchor="end">CEACAM1</text>
<rect x="47.40" y="472.49" width="6.90" height="7.50" fill="#f8e6da"/>
<rect x="102.60" y="472.49" width="6.90" height="6.90" fill="#d98055"/>
<rect x="114.10" y="472.49" width="6.93" height="7.50" fill="#fdf0ee"/>
<rect x="127.96" y="472.49" width="7.53" height="7.50" fill="#fae4dc"/>
<rect x="134.89" y="472.49" width="6.93" height="7.50" fill="#fae4dc"/>
<rect x="162.61" y="472.49" width="6.93" height="7.50" fill="#f8d8d0"/>
<rect x="197.26" y="472.49" width="6.93" height="6.90" fill="#f3c5b5"/>
<text x="36.40" y="477.84" font-size="5.3" fill="#2a2a2a" text-anchor="end">GALECTIN9</text>
<rect x="47.40" y="479.39" width="6.90" height="6.90" fill="#fcf0ee"/>
<rect x="114.10" y="479.39" width="6.93" height="6.90" fill="#eef1f8"/>
<rect x="127.96" y="479.39" width="7.53" height="6.90" fill="#fcecea"/>
<rect x="134.89" y="479.39" width="6.93" height="6.90" fill="#fcecea"/>
<rect x="155.68" y="479.39" width="7.53" height="6.90" fill="#f6d5ca"/>
<rect x="162.61" y="479.39" width="6.93" height="7.50" fill="#fcefec"/>
<rect x="176.47" y="479.39" width="6.93" height="6.90" fill="#e3e8f5"/>
<rect x="211.12" y="479.39" width="6.93" height="6.90" fill="#c8d5ec"/>
<text x="36.40" y="484.74" font-size="5.3" fill="#2a2a2a" text-anchor="end">HMGB1</text>
<rect x="102.60" y="486.29" width="6.90" height="6.90" fill="#f6dcdc"/>
<rect x="162.61" y="486.29" width="6.93" height="6.90" fill="#f8dcd4"/>
<rect x="190.33" y="486.29" width="7.53" height="6.90" fill="#d86048"/>
<rect x="197.26" y="486.29" width="6.93" height="6.90" fill="#d04a35"/>
<text x="36.40" y="491.64" font-size="5.3" fill="#2a2a2a" text-anchor="end">TIM-3</text>
<text x="36.40" y="501.17" font-size="5.3" fill="#2a2a2a" text-anchor="end">CD112</text>
<text x="36.40" y="508.07" font-size="5.3" fill="#2a2a2a" text-anchor="end">CD113</text>
<rect x="102.60" y="509.62" width="6.90" height="6.90" fill="#faecec"/>
<text x="36.40" y="514.97" font-size="5.3" fill="#2a2a2a" text-anchor="end">CD155</text>
<rect x="75.00" y="516.52" width="6.90" height="6.90" fill="#f1f2f6"/>
<rect x="121.03" y="516.52" width="7.53" height="6.90" fill="#dde7f4"/>
<rect x="127.96" y="516.52" width="7.53" height="6.90" fill="#5a90d0"/>
<rect x="134.89" y="516.52" width="7.53" height="7.50" fill="#4d84cc"/>
<rect x="141.82" y="516.52" width="6.93" height="6.90" fill="#c5d5ec"/>
<rect x="155.68" y="516.52" width="7.53" height="7.50" fill="#4a82cc"/>
<rect x="162.61" y="516.52" width="6.93" height="7.50" fill="#4a82cc"/>
<rect x="183.40" y="516.52" width="7.53" height="6.90" fill="#d8e2f2"/>
<rect x="190.33" y="516.52" width="7.53" height="6.90" fill="#d8e2f2"/>
<rect x="197.26" y="516.52" width="6.93" height="6.90" fill="#f2c2b0"/>
<text x="36.40" y="521.87" font-size="5.3" fill="#2a2a2a" text-anchor="end">TIGIT</text>
<rect x="134.89" y="523.42" width="6.93" height="6.90" fill="#fbe5dc"/>
<rect x="155.68" y="523.42" width="7.53" height="6.90" fill="#f9dcd0"/>
<rect x="162.61" y="523.42" width="6.93" height="6.90" fill="#f9dcd0"/>
<rect x="176.47" y="523.42" width="6.93" height="6.90" fill="#fcece6"/>
<text x="36.40" y="528.77" font-size="5.3" fill="#2a2a2a" text-anchor="end">CD226</text>
<rect x="38.80" y="379.15" width="1.20" height="20.70" fill="#111"/>
<rect x="38.80" y="402.48" width="1.20" height="13.80" fill="#111"/>
<rect x="38.80" y="418.92" width="1.20" height="20.70" fill="#111"/>
<rect x="38.80" y="442.25" width="1.20" height="20.70" fill="#111"/>
<rect x="38.80" y="465.59" width="1.20" height="27.60" fill="#111"/>
<rect x="38.80" y="495.82" width="1.20" height="35.68" fill="#111"/>
<rect x="38.80" y="530.80" width="70.60" height="1.40" fill="#111"/>
<rect x="113.90" y="530.80" width="104.60" height="1.40" fill="#111"/>
<text x="98.70" y="361.70" font-size="8.6" fill="#222" text-anchor="start" textLength="59.8" lengthAdjust="spacingAndGlyphs">Inhibition panel</text>
<rect x="39.70" y="364.90" width="179.30" height="1.25" fill="#2a2a2a"/>
<text x="42.85" y="538.00" font-size="4.4" fill="#333" text-anchor="end" transform="rotate(-45 42.85 538.00)">B_1</text>
<text x="49.75" y="538.00" font-size="4.4" fill="#333" text-anchor="end" transform="rotate(-45 49.75 538.00)">B_2</text>
<text x="56.65" y="538.00" font-size="4.4" fill="#333" text-anchor="end" transform="rotate(-45 56.65 538.00)">B_3</text>
<text x="63.55" y="538.00" font-size="4.4" fill="#333" text-anchor="end" transform="rotate(-45 63.55 538.00)">B_4</text>
<text x="70.45" y="538.00" font-size="4.4" fill="#333" text-anchor="end" transform="rotate(-45 70.45 538.00)">B_dn</text>
<text x="77.35" y="538.00" font-size="4.4" fill="#333" text-anchor="end" transform="rotate(-45 77.35 538.00)">B_m</text>
<text x="84.25" y="538.00" font-size="4.4" fill="#333" text-anchor="end" transform="rotate(-45 84.25 538.00)">GCB</text>
<text x="91.15" y="538.00" font-size="4.4" fill="#333" text-anchor="end" transform="rotate(-45 91.15 538.00)">Plasma</text>
<text x="98.05" y="538.00" font-size="4.4" fill="#333" text-anchor="end" transform="rotate(-45 98.05 538.00)">pDC</text>
<text x="104.95" y="538.00" font-size="4.4" fill="#333" text-anchor="end" transform="rotate(-45 104.95 538.00)">Macrophage</text>
<text x="116.46" y="538.00" font-size="4.4" fill="#333" text-anchor="end" transform="rotate(-45 116.46 538.00)">Tn_1</text>
<text x="123.39" y="538.00" font-size="4.4" fill="#333" text-anchor="end" transform="rotate(-45 123.39 538.00)">Tn_2</text>
<text x="130.32" y="538.00" font-size="4.4" fill="#333" text-anchor="end" transform="rotate(-45 130.32 538.00)">CD8m_1</text>
<text x="137.25" y="538.00" font-size="4.4" fill="#333" text-anchor="end" transform="rotate(-45 137.25 538.00)">CD8m_2</text>
<text x="144.18" y="538.00" font-size="4.4" fill="#333" text-anchor="end" transform="rotate(-45 144.18 538.00)">Treg_1</text>
<text x="151.11" y="538.00" font-size="4.4" fill="#333" text-anchor="end" transform="rotate(-45 151.11 538.00)">Treg_2</text>
<text x="158.04" y="538.00" font-size="4.4" fill="#333" text-anchor="end" transform="rotate(-45 158.04 538.00)">Treg_3</text>
<text x="164.97" y="538.00" font-size="4.4" fill="#333" text-anchor="end" transform="rotate(-45 164.97 538.00)">Treg_4</text>
<text x="171.90" y="538.00" font-size="4.4" fill="#333" text-anchor="end" transform="rotate(-45 171.90 538.00)">T_fh</text>
<text x="178.83" y="538.00" font-size="4.4" fill="#333" text-anchor="end" transform="rotate(-45 178.83 538.00)">CD4m_1</text>
<text x="185.76" y="538.00" font-size="4.4" fill="#333" text-anchor="end" transform="rotate(-45 185.76 538.00)">CD4m_2</text>
<text x="192.69" y="538.00" font-size="4.4" fill="#333" text-anchor="end" transform="rotate(-45 192.69 538.00)">T_exh_1</text>
<text x="199.62" y="538.00" font-size="4.4" fill="#333" text-anchor="end" transform="rotate(-45 199.62 538.00)">T_exh_2</text>
<text x="206.55" y="538.00" font-size="4.4" fill="#333" text-anchor="end" transform="rotate(-45 206.55 538.00)">NK-T</text>
<text x="213.48" y="538.00" font-size="4.4" fill="#333" text-anchor="end" transform="rotate(-45 213.48 538.00)">Proliferative</text>
<rect x="332.86" y="374.80" width="7.26" height="6.14" fill="#f2f3f7"/>
<rect x="339.52" y="374.80" width="6.66" height="6.14" fill="#f2f3f7"/>
<rect x="386.14" y="374.80" width="6.66" height="6.14" fill="#e2a290"/>
<rect x="490.38" y="374.80" width="6.67" height="6.14" fill="#d0d8ec"/>
<text x="322.70" y="379.77" font-size="5.2" fill="#2a2a2a" text-anchor="end">CD86</text>
<text x="322.70" y="385.91" font-size="5.2" fill="#2a2a2a" text-anchor="end">CD80</text>
<rect x="397.00" y="387.08" width="6.67" height="6.14" fill="#e4ecf6"/>
<rect x="457.03" y="387.08" width="6.67" height="6.14" fill="#d8e4f2"/>
<rect x="490.38" y="387.08" width="6.67" height="6.14" fill="#e09078"/>
<text x="322.70" y="392.05" font-size="5.2" fill="#2a2a2a" text-anchor="end">CD28</text>
<rect x="326.20" y="395.46" width="6.66" height="6.74" fill="#f8dcdc"/>
<rect x="397.00" y="395.46" width="7.27" height="6.14" fill="#fadcd0"/>
<rect x="403.67" y="395.46" width="6.67" height="6.14" fill="#fadcd0"/>
<rect x="417.01" y="395.46" width="6.67" height="6.74" fill="#fbe6dc"/>
<rect x="443.69" y="395.46" width="6.67" height="6.74" fill="#e8a890"/>
<rect x="457.03" y="395.46" width="7.27" height="6.14" fill="#eab4a4"/>
<rect x="463.70" y="395.46" width="6.67" height="6.74" fill="#f8e0d8"/>
<rect x="477.04" y="395.46" width="6.67" height="6.14" fill="#e59a88"/>
<text x="322.70" y="400.43" font-size="5.2" fill="#2a2a2a" text-anchor="end">CD48</text>
<rect x="326.20" y="401.60" width="6.66" height="6.14" fill="#dcdcf0"/>
<rect x="359.50" y="401.60" width="6.66" height="6.14" fill="#ebedf4"/>
<rect x="386.14" y="401.60" width="6.66" height="6.14" fill="#f5d0cc"/>
<rect x="417.01" y="401.60" width="6.67" height="6.14" fill="#dde5f3"/>
<rect x="437.02" y="401.60" width="7.27" height="6.74" fill="#c8d8f0"/>
<rect x="443.69" y="401.60" width="6.67" height="6.74" fill="#c8d8f0"/>
<rect x="463.70" y="401.60" width="6.67" height="6.74" fill="#e8eef8"/>
<text x="322.70" y="406.57" font-size="5.2" fill="#2a2a2a" text-anchor="end">CD58</text>
<rect x="397.00" y="407.74" width="6.67" height="6.14" fill="#f4f4f8"/>
<rect x="437.02" y="407.74" width="7.27" height="6.14" fill="#f8dcd0"/>
<rect x="443.69" y="407.74" width="6.67" height="6.14" fill="#e8a890"/>
<rect x="457.03" y="407.74" width="7.27" height="6.14" fill="#f0f0f8"/>
<rect x="463.70" y="407.74" width="7.27" height="6.14" fill="#f6c8b8"/>
<rect x="470.37" y="407.74" width="7.27" height="6.14" fill="#f6c8b8"/>
<rect x="477.04" y="407.74" width="6.67" height="6.14" fill="#f6c8b8"/>
<rect x="490.38" y="407.74" width="6.67" height="6.14" fill="#a00010"/>
<text x="322.70" y="412.71" font-size="5.2" fill="#2a2a2a" text-anchor="end">CD2</text>
<text x="322.70" y="421.09" font-size="5.2" fill="#2a2a2a" text-anchor="end">TL1</text>
<rect x="397.00" y="422.26" width="6.67" height="6.14" fill="#e8ecf5"/>
<rect x="410.34" y="422.26" width="6.67" height="6.14" fill="#fbe8e0"/>
<rect x="443.69" y="422.26" width="6.67" height="6.14" fill="#f0c0a8"/>
<rect x="457.03" y="422.26" width="6.67" height="6.14" fill="#dfe8f3"/>
<rect x="490.38" y="422.26" width="6.67" height="6.14" fill="#eaa898"/>
<text x="322.70" y="427.23" font-size="5.2" fill="#2a2a2a" text-anchor="end">DR3</text>
<text x="322.70" y="435.61" font-size="5.2" fill="#2a2a2a" text-anchor="end">GITRL</text>
<rect x="326.20" y="436.78" width="6.66" height="6.14" fill="#e0e8f4"/>
<rect x="410.34" y="436.78" width="7.27" height="6.14" fill="#fcf0ee"/>
<rect x="417.01" y="436.78" width="6.67" height="6.14" fill="#c8d8ec"/>
<rect x="437.02" y="436.78" width="6.67" height="6.14" fill="#8ab0dc"/>
<rect x="463.70" y="436.78" width="7.27" height="6.14" fill="#f0f4fa"/>
<rect x="470.37" y="436.78" width="6.67" height="6.14" fill="#6898cc"/>
<rect x="490.38" y="436.78" width="6.67" height="6.14" fill="#e09080"/>
<text x="322.70" y="441.75" font-size="5.2" fill="#2a2a2a" text-anchor="end">GITR</text>
<text x="322.70" y="450.13" font-size="5.2" fill="#2a2a2a" text-anchor="end">4-1BBL</text>
<rect x="386.14" y="451.30" width="6.66" height="6.14" fill="#f2f2f6"/>
<rect x="437.02" y="451.30" width="7.27" height="6.14" fill="#d8e2f0"/>
<rect x="443.69" y="451.30" width="6.67" height="6.14" fill="#d8e2f0"/>
<rect x="463.70" y="451.30" width="6.67" height="6.14" fill="#cddcee"/>
<text x="322.70" y="456.27" font-size="5.2" fill="#2a2a2a" text-anchor="end">4-1BB</text>
<rect x="332.86" y="459.68" width="6.66" height="6.14" fill="#f2f3f7"/>
<rect x="359.50" y="459.68" width="6.66" height="6.14" fill="#f4f4f8"/>
<text x="322.70" y="464.65" font-size="5.2" fill="#2a2a2a" text-anchor="end">ICOSLG</text>
<rect x="417.01" y="465.82" width="6.67" height="6.14" fill="#e0e4f0"/>
<rect x="443.69" y="465.82" width="6.67" height="6.14" fill="#e09585"/>
<rect x="490.38" y="465.82" width="6.67" height="6.14" fill="#d87860"/>
<text x="322.70" y="470.79" font-size="5.2" fill="#2a2a2a" text-anchor="end">ICOS</text>
<text x="322.70" y="479.17" font-size="5.2" fill="#2a2a2a" text-anchor="end">OX40L</text>
<rect x="397.00" y="480.34" width="6.67" height="6.14" fill="#fcf0ee"/>
<rect x="410.34" y="480.34" width="7.27" height="6.14" fill="#f6d6c8"/>
<rect x="417.01" y="480.34" width="6.67" height="6.14" fill="#fbeae4"/>
<rect x="437.02" y="480.34" width="7.27" height="6.14" fill="#c8d8ec"/>
<rect x="443.69" y="480.34" width="6.67" height="6.14" fill="#f0c0b0"/>
<rect x="470.37" y="480.34" width="6.67" height="6.14" fill="#cfdcee"/>
<rect x="490.38" y="480.34" width="6.67" height="6.14" fill="#d87868"/>
<text x="322.70" y="485.31" font-size="5.2" fill="#2a2a2a" text-anchor="end">OX40</text>
<rect x="397.00" y="488.72" width="7.27" height="6.14" fill="#fbe8e0"/>
<rect x="403.67" y="488.72" width="7.27" height="6.14" fill="#fbe8e0"/>
<rect x="410.34" y="488.72" width="7.27" height="6.14" fill="#fbe8e0"/>
<rect x="417.01" y="488.72" width="6.67" height="6.14" fill="#fbe8e0"/>
<rect x="443.69" y="488.72" width="6.67" height="6.74" fill="#f6d2c6"/>
<rect x="457.03" y="488.72" width="6.67" height="6.14" fill="#f8dcd0"/>
<text x="322.70" y="493.69" font-size="5.2" fill="#2a2a2a" text-anchor="end">CD30L</text>
<rect x="443.69" y="494.86" width="6.67" height="6.14" fill="#fbe6e0"/>
<text x="322.70" y="499.83" font-size="5.2" fill="#2a2a2a" text-anchor="end">CD30</text>
<rect x="326.20" y="503.24" width="7.26" height="6.14" fill="#e3e7f2"/>
<rect x="332.86" y="503.24" width="7.26" height="6.14" fill="#e3e7f2"/>
<rect x="339.52" y="503.24" width="6.66" height="6.14" fill="#e3e7f2"/>
<rect x="359.50" y="503.24" width="6.66" height="6.14" fill="#eeeff4"/>
<rect x="386.14" y="503.24" width="6.66" height="6.14" fill="#f2c0b8"/>
<rect x="490.38" y="503.24" width="6.67" height="6.14" fill="#6a9fd8"/>
<text x="322.70" y="508.21" font-size="5.2" fill="#2a2a2a" text-anchor="end">CD40</text>
<rect x="410.34" y="509.38" width="6.67" height="6.14" fill="#d6e0f0"/>
<rect x="443.69" y="509.38" width="6.67" height="6.14" fill="#cbd8ee"/>
<text x="322.70" y="514.35" font-size="5.2" fill="#2a2a2a" text-anchor="end">CD40LG</text>
<text x="322.70" y="522.73" font-size="5.2" fill="#2a2a2a" text-anchor="end">CD70</text>
<rect x="403.67" y="523.90" width="7.27" height="6.14" fill="#fbe2d8"/>
<rect x="410.34" y="523.90" width="6.67" height="6.14" fill="#fbe2d8"/>
<rect x="437.02" y="523.90" width="7.27" height="6.14" fill="#f6d0c2"/>
<rect x="443.69" y="523.90" width="6.67" height="6.14" fill="#f6d0c2"/>
<rect x="457.03" y="523.90" width="7.27" height="6.14" fill="#f9dcd0"/>
<rect x="463.70" y="523.90" width="7.27" height="6.14" fill="#f9dcd0"/>
<rect x="470.37" y="523.90" width="7.27" height="6.14" fill="#f9dcd0"/>
<rect x="477.04" y="523.90" width="6.67" height="6.14" fill="#b84030"/>
<rect x="490.38" y="523.90" width="6.67" height="6.14" fill="#c85a40"/>
<text x="322.70" y="528.87" font-size="5.2" fill="#2a2a2a" text-anchor="end">CD27</text>
<rect x="325.10" y="374.80" width="1.20" height="18.42" fill="#111"/>
<rect x="325.10" y="395.46" width="1.20" height="18.42" fill="#111"/>
<rect x="325.10" y="416.12" width="1.20" height="12.28" fill="#111"/>
<rect x="325.10" y="430.64" width="1.20" height="12.28" fill="#111"/>
<rect x="325.10" y="445.16" width="1.20" height="12.28" fill="#111"/>
<rect x="325.10" y="459.68" width="1.20" height="12.28" fill="#111"/>
<rect x="325.10" y="474.20" width="1.20" height="12.28" fill="#111"/>
<rect x="325.10" y="488.72" width="1.20" height="12.28" fill="#111"/>
<rect x="325.10" y="503.24" width="1.20" height="12.28" fill="#111"/>
<rect x="325.10" y="517.76" width="1.20" height="13.34" fill="#111"/>
<rect x="325.40" y="530.40" width="67.30" height="1.40" fill="#111"/>
<rect x="396.80" y="530.40" width="100.20" height="1.40" fill="#111"/>
<text x="378.90" y="361.50" font-size="8.6" fill="#222" text-anchor="start" textLength="63.3" lengthAdjust="spacingAndGlyphs">Activation panel</text>
<rect x="325.30" y="364.70" width="172.60" height="1.25" fill="#2a2a2a"/>
<text x="328.73" y="537.80" font-size="4.3" fill="#333" text-anchor="end" transform="rotate(-45 328.73 537.80)">B_1</text>
<text x="335.39" y="537.80" font-size="4.3" fill="#333" text-anchor="end" transform="rotate(-45 335.39 537.80)">B_2</text>
<text x="342.05" y="537.80" font-size="4.3" fill="#333" text-anchor="end" transform="rotate(-45 342.05 537.80)">B_3</text>
<text x="348.71" y="537.80" font-size="4.3" fill="#333" text-anchor="end" transform="rotate(-45 348.71 537.80)">B_4</text>
<text x="355.37" y="537.80" font-size="4.3" fill="#333" text-anchor="end" transform="rotate(-45 355.37 537.80)">B_dn</text>
<text x="362.03" y="537.80" font-size="4.3" fill="#333" text-anchor="end" transform="rotate(-45 362.03 537.80)">B_m</text>
<text x="368.69" y="537.80" font-size="4.3" fill="#333" text-anchor="end" transform="rotate(-45 368.69 537.80)">GCB</text>
<text x="375.35" y="537.80" font-size="4.3" fill="#333" text-anchor="end" transform="rotate(-45 375.35 537.80)">Plasma</text>
<text x="382.01" y="537.80" font-size="4.3" fill="#333" text-anchor="end" transform="rotate(-45 382.01 537.80)">pDC</text>
<text x="388.67" y="537.80" font-size="4.3" fill="#333" text-anchor="end" transform="rotate(-45 388.67 537.80)">Macrophage</text>
<text x="399.53" y="537.80" font-size="4.3" fill="#333" text-anchor="end" transform="rotate(-45 399.53 537.80)">Tn_1</text>
<text x="406.20" y="537.80" font-size="4.3" fill="#333" text-anchor="end" transform="rotate(-45 406.20 537.80)">Tn_2</text>
<text x="412.87" y="537.80" font-size="4.3" fill="#333" text-anchor="end" transform="rotate(-45 412.87 537.80)">CD8m_1</text>
<text x="419.54" y="537.80" font-size="4.3" fill="#333" text-anchor="end" transform="rotate(-45 419.54 537.80)">CD8m_2</text>
<text x="426.21" y="537.80" font-size="4.3" fill="#333" text-anchor="end" transform="rotate(-45 426.21 537.80)">Treg_1</text>
<text x="432.88" y="537.80" font-size="4.3" fill="#333" text-anchor="end" transform="rotate(-45 432.88 537.80)">Treg_2</text>
<text x="439.55" y="537.80" font-size="4.3" fill="#333" text-anchor="end" transform="rotate(-45 439.55 537.80)">Treg_3</text>
<text x="446.22" y="537.80" font-size="4.3" fill="#333" text-anchor="end" transform="rotate(-45 446.22 537.80)">Treg_4</text>
<text x="452.89" y="537.80" font-size="4.3" fill="#333" text-anchor="end" transform="rotate(-45 452.89 537.80)">T_fh</text>
<text x="459.56" y="537.80" font-size="4.3" fill="#333" text-anchor="end" transform="rotate(-45 459.56 537.80)">CD4m_1</text>
<text x="466.23" y="537.80" font-size="4.3" fill="#333" text-anchor="end" transform="rotate(-45 466.23 537.80)">CD4m_2</text>
<text x="472.90" y="537.80" font-size="4.3" fill="#333" text-anchor="end" transform="rotate(-45 472.90 537.80)">T_exh_1</text>
<text x="479.57" y="537.80" font-size="4.3" fill="#333" text-anchor="end" transform="rotate(-45 479.57 537.80)">T_exh_2</text>
<text x="486.24" y="537.80" font-size="4.3" fill="#333" text-anchor="end" transform="rotate(-45 486.24 537.80)">NK-T</text>
<text x="492.91" y="537.80" font-size="4.3" fill="#333" text-anchor="end" transform="rotate(-45 492.91 537.80)">Proliferative</text>
<text x="248.60" y="378.60" font-size="6.6" fill="#b85050" text-anchor="start" textLength="39" lengthAdjust="spacingAndGlyphs">Higher in cHL</text>
<g transform="translate(269.8 400) scale(2.05)">
<circle cx="0" cy="0.2" r="5.6" fill="#e49aa0"/>
<circle cx="-3.1" cy="-3.4" r="2.0" fill="#eaa2a8"/>
<circle cx="-3.1" cy="-3.4" r="1.24" fill="#b8283a"/>
<circle cx="0.1" cy="-3.4" r="1.8" fill="#eaa2a8"/>
<circle cx="0.1" cy="-3.4" r="1.12" fill="#c83848"/>
<circle cx="3.3" cy="-3.5" r="2.1" fill="#eaa2a8"/>
<circle cx="3.3" cy="-3.5" r="1.30" fill="#d06070"/>
<circle cx="-4.1" cy="0.3" r="2.0" fill="#eaa2a8"/>
<circle cx="-4.1" cy="0.3" r="1.24" fill="#c84050"/>
<circle cx="4.1" cy="-0.1" r="2.0" fill="#eaa2a8"/>
<circle cx="4.1" cy="-0.1" r="1.24" fill="#b02030"/>
<circle cx="-3.0" cy="3.6" r="1.9" fill="#eaa2a8"/>
<circle cx="-3.0" cy="3.6" r="1.18" fill="#c03040"/>
<circle cx="1.0" cy="4.6" r="2.0" fill="#eaa2a8"/>
<circle cx="1.0" cy="4.6" r="1.24" fill="#b52535"/>
<circle cx="4.1" cy="3.5" r="1.8" fill="#eaa2a8"/>
<circle cx="4.1" cy="3.5" r="1.12" fill="#c03848"/>
<circle cx="0.2" cy="1.0" r="2.6" fill="#eaa2a8"/>
<circle cx="0.2" cy="1.0" r="1.61" fill="#e07884"/>
<circle cx="-1.6" cy="-8.3" r="0.55" fill="#701828"/>
<circle cx="5.6" cy="-5.8" r="0.55" fill="#701828"/>
<circle cx="4.6" cy="8.0" r="0.55" fill="#701828"/>
<circle cx="-7.2" cy="-2.4" r="0.45" fill="#c8b0b8"/>
<circle cx="7.5" cy="2.6" r="0.4" fill="#c8b0b8"/>
<circle cx="-6.2" cy="5.2" r="0.4" fill="#d0a0a8"/>
<circle cx="-5.5" cy="-6" r="0.35" fill="#c89098"/>
<circle cx="7.2" cy="-2" r="0.35" fill="#d0a8b0"/>
<circle cx="-2.5" cy="8.2" r="0.35" fill="#d0a0a8"/>
</g>
<rect x="267.40" y="423.60" width="5.20" height="61.60" fill="url(#fcleg)"/>
<text x="275.30" y="428.80" font-size="6.4" fill="#333" text-anchor="start">2</text>
<text x="275.30" y="441.40" font-size="6.4" fill="#333" text-anchor="start">1</text>
<text x="275.30" y="453.90" font-size="6.4" fill="#333" text-anchor="start">0</text>
<text x="275.30" y="466.90" font-size="6.4" fill="#333" text-anchor="start">−1</text>
<text x="275.30" y="479.80" font-size="6.4" fill="#333" text-anchor="start">−2</text>
<text x="263.60" y="454.70" font-size="8.2" fill="#222" text-anchor="middle" transform="rotate(-90 263.60 454.70)" textLength="21.2" lengthAdjust="spacingAndGlyphs">log2FC</text>
<g transform="translate(269.5 507.7) scale(2.0)">
<path d="M0.8 -6 L0.8 -8.6 M-2.8 -4.8 L-4.4 -6 M-3.8 -0.8 L-5.8 -0.8 M-3.4 3.2 L-5.4 3.8 M-1.8 5.8 L-2.4 7.2 M2.2 5.9 L2.6 8" stroke="#a8bde0" stroke-width="0.45"/>
<path d="M0.5 -6 C-2.5 -6 -3.8 -3 -3.8 0 C-3.8 3 -2.5 6 0.5 6 C3 6 4.3 4.6 3.9 2.9 C3.6 1.9 1.3 1.8 1.1 0 C1.3 -1.8 3.6 -1.9 3.9 -2.9 C4.3 -4.6 3 -6 0.5 -6 Z" fill="#c6daf4" stroke="#7090c4" stroke-width="0.35"/>
<path d="M-1.5 -4 C-2.5 -2 -2.5 2 -1.5 4 M0.5 -4.6 C2 -4.2 2.6 -3.4 2.4 -2.6" stroke="#a9c2e6" stroke-width="0.35" fill="none"/>
<path d="M1.2 -0.5 L8 -0.7 M1.2 0.7 L8 1.3 M3 -0.1 L7.5 0.2" stroke="#7090c4" stroke-width="0.4"/>
</g>
<text x="248.00" y="534.00" font-size="6.6" fill="#5a7aa6" text-anchor="start" textLength="41" lengthAdjust="spacingAndGlyphs">Higher in RLN</text>
<text x="7.00" y="17.00" font-size="12.3" fill="#111" text-anchor="start" font-weight="bold">A</text>
<text x="287.50" y="16.60" font-size="12.3" fill="#111" text-anchor="start" font-weight="bold">B</text>
<text x="6.50" y="158.20" font-size="12.3" fill="#111" text-anchor="start" font-weight="bold">C</text>
<text x="321.00" y="158.20" font-size="12.3" fill="#111" text-anchor="start" font-weight="bold">D</text>
<text x="7.00" y="356.20" font-size="12.3" fill="#111" text-anchor="start" font-weight="bold">E</text>
<text x="295.50" y="356.20" font-size="12.3" fill="#111" text-anchor="start" font-weight="bold">F</text>
<rect x="0.5" y="0.5" width="519" height="562" fill="none" stroke="#666" stroke-width="1"/>
</svg></body></html>
